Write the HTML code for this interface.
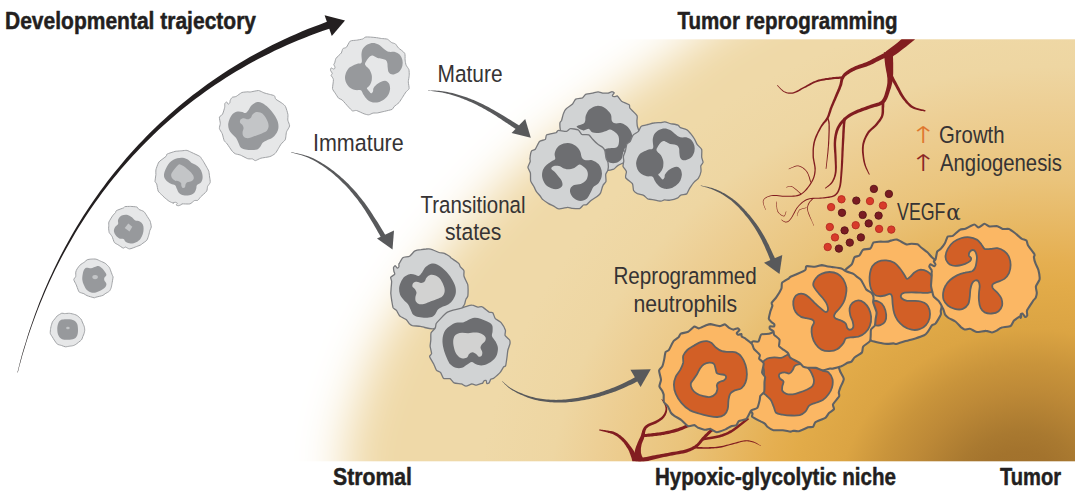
<!DOCTYPE html>
<html lang="en">
<head>
<meta charset="utf-8">
<title>Neutrophil reprogramming</title>
<style>
html,body{margin:0;padding:0;background:#fff;}
body{width:1080px;height:498px;overflow:hidden;}
svg{display:block;}
text{white-space:pre;}
</style>
</head>
<body>
<svg width="1080" height="498" viewBox="0 0 1080 498">
<defs>
<radialGradient id="gBase" gradientUnits="userSpaceOnUse" cx="0" cy="0" r="1" gradientTransform="translate(1016.7 490) rotate(-19.5) scale(548 479)">
<stop offset="0" stop-color="#9f6f2b"/>
<stop offset="0.08" stop-color="#a3732d"/>
<stop offset="0.12" stop-color="#a97930"/>
<stop offset="0.2" stop-color="#bd8937"/>
<stop offset="0.26" stop-color="#c9943b"/>
<stop offset="0.33" stop-color="#dba443"/>
<stop offset="0.42" stop-color="#e2ab49"/>
<stop offset="0.47" stop-color="#e5af51"/>
<stop offset="0.64" stop-color="#eac47c"/>
<stop offset="0.79" stop-color="#edcf95"/>
<stop offset="0.87" stop-color="#eed6a2"/>
<stop offset="1" stop-color="#efd9a8"/>
</radialGradient>
<filter id="blur" x="-30%" y="-30%" width="160%" height="160%"><feGaussianBlur stdDeviation="23.5"/></filter>
<clipPath id="panel"><rect x="240" y="39.3" width="835" height="422.0"/></clipPath>
</defs>
<rect x="240" y="39.3" width="835" height="422.0" fill="url(#gBase)"/>
<path d="M100 -80 L160.6 -112.4 L247.4 -129.2 L351.3 -133.6 L463.4 -128.7 L574.5 -117.7 L675.7 -103.8 L757.8 -90.2 L812 -80 L836.7 -70.4 L840.1 -57.3 L827.1 -41.5 L802.9 -24.3 L772.4 -6.6 L740.7 10.5 L712.9 26.1 L694 39 L681.7 49.4 L670.3 58.2 L659.5 65.9 L649.1 72.8 L638.9 79.3 L628.8 85.8 L618.6 92.5 L608 100 L597.1 107.9 L586.1 115.7 L575.1 123.6 L564 131.6 L553 139.7 L542.1 148.1 L531.5 156.9 L521 166 L510.7 175.7 L500.4 185.8 L490.2 196.3 L480.1 207 L470.3 217.9 L460.8 228.7 L451.7 239.5 L443 250 L434.7 260.4 L426.6 271 L418.8 281.5 L411.4 292 L404.3 302.4 L397.7 312.5 L391.6 322.4 L386 332 L381 341.2 L376.6 350.2 L372.8 358.9 L369.3 367.4 L366.2 375.7 L363.3 383.9 L360.6 392 L358 400 L355.5 407.5 L353.4 414.2 L351.5 420.4 L349.8 426.8 L348.2 433.5 L346.8 441 L345.4 449.7 L344 460 L344.3 472.9 L346.9 488.6 L350.6 505.9 L353.9 523.8 L355.4 541.2 L353.9 557 L347.9 570.3 L336 580 L315.8 590.3 L287.5 603.9 L253.8 617.8 L217.5 628.8 L181.2 633.6 L147.8 629.2 L119.8 612.4 L100 580 L83.8 524.6 L66.7 445.9 L51.4 351.8 L40.8 250 L37.5 148.2 L44.4 54.1 L64.3 -24.6Z" fill="#fff" filter="url(#blur)"/>
<path d="M17.8 372.5 L19.3 366.6 L20.9 360.7 L22.5 354.8 L24.3 348.9 L26.1 343.1 L27.9 337.3 L29.8 331.5 L31.8 325.7 L33.9 320 L36 314.3 L38.2 308.6 L40.4 303 L42.7 297.4 L45.1 291.8 L47.5 286.3 L50 280.7 L52.6 275.3 L55.2 269.8 L57.9 264.4 L60.7 259.1 L63.5 253.7 L66.4 248.4 L69.4 243.2 L72.4 238 L75.4 232.8 L78.6 227.6 L81.8 222.5 L85 217.5 L88.3 212.5 L91.7 207.5 L95.2 202.6 L98.7 197.7 L102.2 192.8 L105.9 188 L109.5 183.3 L113.3 178.6 L117.1 173.9 L120.9 169.3 L124.9 164.8 L128.9 160.2 L132.9 155.8 L137 151.4 L141.2 147 L145.4 142.7 L149.7 138.4 L154 134.2 L158.4 130.1 L162.8 126 L167.3 121.9 L171.9 117.9 L176.5 114 L181.2 110.1 L186 106.3 L190.7 102.5 L195.6 98.8 L200.5 95.2 L205.5 91.6 L210.5 88.1 L215.6 84.6 L220.7 81.2 L225.9 77.8 L231.1 74.6 L236.4 71.3 L241.8 68.2 L247.2 65.1 L252.6 62.1 L258.2 59.1 L263.7 56.2 L269.4 53.4 L275 50.6 L280.8 47.9 L286.6 45.3 L292.4 42.8 L298.3 40.3 L304.2 37.9 L310.2 35.5 L316.3 33.2 L322.4 31 L328.5 28.9 L334.8 26.9 L332.4 19.9 L326.2 22.1 L320 24.4 L313.8 26.7 L307.7 29.1 L301.7 31.6 L295.7 34.2 L289.8 36.8 L283.9 39.5 L278.1 42.2 L272.3 45.1 L266.6 48 L261 50.9 L255.4 53.9 L249.8 57 L244.4 60.2 L238.9 63.4 L233.6 66.7 L228.3 70 L223 73.4 L217.8 76.9 L212.7 80.4 L207.6 84 L202.6 87.7 L197.7 91.4 L192.8 95.1 L187.9 99 L183.2 102.8 L178.4 106.8 L173.8 110.8 L169.2 114.8 L164.6 118.9 L160.1 123 L155.7 127.3 L151.3 131.5 L147 135.8 L142.8 140.2 L138.6 144.6 L134.5 149 L130.4 153.5 L126.4 158.1 L122.5 162.7 L118.6 167.4 L114.8 172 L111 176.8 L107.3 181.6 L103.7 186.4 L100.1 191.3 L96.6 196.2 L93.1 201.2 L89.7 206.2 L86.4 211.2 L83.1 216.3 L79.9 221.4 L76.8 226.6 L73.7 231.8 L70.7 237 L67.8 242.3 L64.9 247.6 L62 252.9 L59.3 258.3 L56.6 263.7 L53.9 269.2 L51.4 274.7 L48.8 280.2 L46.4 285.8 L44 291.3 L41.7 297 L39.4 302.6 L37.3 308.3 L35.1 314 L33.1 319.7 L31.1 325.5 L29.1 331.2 L27.3 337.1 L25.5 342.9 L23.7 348.8 L22 354.6 L20.4 360.6 L18.9 366.5 L17.4 372.5Z" fill="#231f20"/>
<path d="M324.6 15.3 L345 20.6 L331.8 36 Z" fill="#231f20"/>
<path d="M428 90.5 L428.9 90.7 L430.2 90.8 L431.6 91 L433.2 91.2 L435 91.5 L436.8 91.7 L438.7 92 L440.5 92.3 L442.3 92.6 L444 93 L445.5 93.3 L447.1 93.7 L448.7 94.1 L450.3 94.6 L451.9 95 L453.5 95.5 L455.1 96 L456.7 96.5 L458.2 97.1 L459.8 97.6 L461.4 98.2 L463 98.8 L464.5 99.4 L466.1 100.1 L467.7 100.7 L469.3 101.4 L470.8 102.1 L472.4 102.8 L474 103.5 L475.5 104.3 L477.1 105.1 L478.7 105.9 L480.3 106.7 L481.9 107.6 L483.4 108.4 L485 109.3 L486.6 110.2 L488.2 111.2 L489.8 112.1 L491.4 113 L493 114 L494.6 115 L496.3 116.1 L497.9 117.2 L499.6 118.3 L501.2 119.3 L502.8 120.4 L504.4 121.4 L505.8 122.4 L507.2 123.3 L508.5 124.2 L509.8 125 L511.1 125.9 L512.3 126.7 L513.4 127.5 L514.5 128.2 L515.4 128.8 L516.3 129.4 L517.1 129.9 L517.7 130.3 L520.3 126.3 L519.7 125.9 L519 125.4 L518.1 124.8 L517.1 124.2 L516 123.5 L514.8 122.8 L513.6 122 L512.3 121.2 L510.9 120.3 L509.6 119.5 L508.2 118.7 L506.7 117.7 L505.1 116.8 L503.5 115.8 L501.8 114.7 L500.1 113.7 L498.4 112.7 L496.6 111.7 L494.9 110.7 L493.2 109.8 L491.6 108.9 L490 108 L488.3 107.1 L486.7 106.2 L485.1 105.4 L483.4 104.6 L481.8 103.8 L480.1 103 L478.5 102.2 L476.9 101.5 L475.2 100.8 L473.6 100.1 L472 99.4 L470.3 98.8 L468.7 98.2 L467.1 97.6 L465.5 97 L463.8 96.4 L462.2 95.9 L460.6 95.4 L458.9 94.9 L457.3 94.4 L455.7 94 L454 93.5 L452.4 93.1 L450.8 92.7 L449.1 92.4 L447.5 92 L445.9 91.7 L444.2 91.4 L442.5 91.2 L440.7 91 L438.8 90.8 L436.9 90.7 L435.1 90.6 L433.3 90.5 L431.7 90.4 L430.2 90.4 L429 90.3 L428 90.3Z" fill="#58595b"/>
<path d="M525.2 119 L530.8 137.8 L511.6 133.1 Z" fill="#58595b"/>
<path d="M290.9 152.3 L291.9 152.7 L293.3 153 L295 153.5 L296.8 154 L298.8 154.5 L300.9 155.1 L303 155.8 L305.1 156.5 L307.1 157.3 L308.9 158.1 L310.7 158.9 L312.5 159.8 L314.3 160.8 L316.1 161.8 L317.8 162.8 L319.6 163.9 L321.4 165.1 L323.2 166.3 L325 167.5 L326.7 168.8 L328.5 170.2 L330.4 171.6 L332.2 173.1 L334 174.6 L335.8 176.2 L337.7 177.8 L339.5 179.5 L341.2 181.2 L342.9 182.9 L344.6 184.6 L346.3 186.3 L347.9 188.1 L349.5 189.8 L351 191.7 L352.6 193.5 L354.1 195.4 L355.6 197.2 L357.1 199.1 L358.5 201 L359.9 202.9 L361.3 204.8 L362.6 206.8 L364 208.8 L365.3 210.8 L366.5 212.8 L367.8 214.8 L369 216.8 L370.2 218.8 L371.4 220.7 L372.5 222.6 L373.7 224.5 L374.8 226.4 L376 228.4 L377.1 230.4 L378.2 232.4 L379.3 234.2 L380.2 235.9 L381.1 237.4 L381.8 238.7 L382.4 239.7 L386.6 237.3 L386 236.3 L385.3 235 L384.4 233.5 L383.4 231.8 L382.3 230 L381.1 228.1 L379.9 226.1 L378.7 224.1 L377.5 222.1 L376.3 220.2 L375.1 218.4 L373.8 216.5 L372.6 214.5 L371.3 212.6 L370 210.6 L368.6 208.6 L367.2 206.6 L365.8 204.6 L364.4 202.6 L362.9 200.7 L361.4 198.8 L359.9 196.9 L358.3 195 L356.8 193.1 L355.2 191.3 L353.6 189.5 L351.9 187.7 L350.2 185.9 L348.5 184.1 L346.8 182.4 L345 180.7 L343.2 179.1 L341.3 177.4 L339.5 175.8 L337.6 174.2 L335.7 172.7 L333.7 171.1 L331.8 169.7 L329.9 168.3 L328.1 167 L326.2 165.7 L324.3 164.5 L322.5 163.4 L320.6 162.2 L318.8 161.2 L316.9 160.2 L315.1 159.2 L313.2 158.3 L311.3 157.5 L309.5 156.7 L307.5 156 L305.4 155.4 L303.3 154.8 L301.1 154.2 L299 153.7 L297 153.3 L295.1 152.9 L293.4 152.6 L292 152.3 L290.9 152.1Z" fill="#58595b"/>
<path d="M377 238.4 L392.5 249.6 L394 230.5 Z" fill="#58595b"/>
<path d="M700.6 185.7 L701.2 185.9 L702.1 186.2 L703.2 186.5 L704.3 186.8 L705.6 187.2 L706.9 187.6 L708.2 188 L709.5 188.4 L710.7 188.8 L711.9 189.3 L713 189.7 L714.1 190.2 L715.2 190.7 L716.2 191.2 L717.3 191.7 L718.4 192.2 L719.4 192.8 L720.5 193.3 L721.6 194 L722.6 194.6 L723.7 195.3 L724.8 196 L725.9 196.7 L727 197.4 L728 198.2 L729.1 198.9 L730.2 199.8 L731.3 200.6 L732.3 201.5 L733.4 202.4 L734.5 203.4 L735.5 204.4 L736.6 205.4 L737.7 206.5 L738.7 207.6 L739.8 208.7 L740.8 209.9 L741.9 211.1 L743 212.3 L744 213.6 L745.1 214.9 L746.2 216.3 L747.3 217.6 L748.5 219.1 L749.6 220.5 L750.7 222 L751.7 223.5 L752.8 225 L753.8 226.4 L754.8 227.9 L755.7 229.4 L756.6 230.9 L757.5 232.4 L758.3 233.9 L759.2 235.4 L760 237 L760.8 238.5 L761.6 240.1 L762.4 241.7 L763.2 243.4 L764 245.1 L764.9 247 L765.7 249 L766.6 251.1 L767.5 253.1 L768.3 255.1 L769.1 256.9 L769.7 258.5 L770.3 259.9 L770.8 261 L775.2 259 L774.8 258 L774.2 256.6 L773.4 255 L772.6 253.2 L771.7 251.2 L770.8 249.2 L769.8 247.2 L768.9 245.1 L767.9 243.2 L767 241.4 L766.2 239.8 L765.3 238.2 L764.4 236.6 L763.5 235 L762.6 233.5 L761.7 231.9 L760.8 230.4 L759.8 228.9 L758.9 227.4 L757.8 225.9 L756.8 224.4 L755.7 222.9 L754.5 221.4 L753.4 219.9 L752.2 218.4 L751 217 L749.9 215.6 L748.7 214.2 L747.5 212.9 L746.4 211.6 L745.2 210.4 L744.1 209.1 L742.9 207.9 L741.8 206.8 L740.7 205.7 L739.5 204.6 L738.4 203.5 L737.3 202.5 L736.1 201.5 L735 200.6 L733.8 199.7 L732.7 198.8 L731.5 197.9 L730.4 197.2 L729.3 196.4 L728.1 195.7 L727 195 L725.8 194.3 L724.7 193.6 L723.6 193 L722.4 192.4 L721.3 191.8 L720.2 191.3 L719.1 190.7 L718 190.3 L716.8 189.8 L715.7 189.3 L714.6 188.9 L713.5 188.5 L712.3 188.1 L711.1 187.7 L709.8 187.4 L708.5 187.1 L707.1 186.8 L705.8 186.5 L704.5 186.2 L703.3 186 L702.2 185.8 L701.3 185.6 L700.6 185.5Z" fill="#58595b"/>
<path d="M764 262.7 L779.5 274 L782.3 255 Z" fill="#58595b"/>
<path d="M502 381.3 L502.5 381.8 L503.1 382.4 L503.8 383.1 L504.5 383.9 L505.4 384.7 L506.3 385.6 L507.3 386.5 L508.3 387.4 L509.4 388.3 L510.4 389 L511.5 389.7 L512.6 390.5 L513.8 391.1 L515 391.8 L516.3 392.5 L517.5 393.2 L518.9 393.8 L520.2 394.4 L521.6 395 L523 395.6 L524.4 396.2 L525.9 396.8 L527.4 397.4 L529 397.9 L530.5 398.4 L532.1 398.9 L533.8 399.4 L535.5 399.9 L537.2 400.3 L538.9 400.7 L540.7 401 L542.5 401.3 L544.4 401.6 L546.3 401.8 L548.3 402 L550.2 402.2 L552.2 402.3 L554.1 402.4 L556.1 402.5 L558 402.6 L559.9 402.6 L561.8 402.5 L563.8 402.5 L565.7 402.4 L567.6 402.2 L569.5 402.1 L571.4 401.9 L573.3 401.7 L575.2 401.5 L577.1 401.2 L579 400.9 L581 400.6 L582.9 400.3 L584.8 400 L586.7 399.6 L588.6 399.2 L590.5 398.8 L592.4 398.3 L594.3 397.9 L596.2 397.4 L598.1 396.9 L600.1 396.4 L602 395.8 L604 395.2 L606 394.6 L607.9 394 L609.8 393.3 L611.7 392.7 L613.6 392 L615.4 391.4 L617.1 390.7 L618.9 390 L620.7 389.2 L622.5 388.5 L624.2 387.7 L625.8 387 L627.4 386.2 L628.8 385.6 L630.2 384.9 L631.4 384.4 L632.5 383.9 L633.5 383.4 L634.5 382.9 L635.3 382.5 L636.1 382.1 L636.7 381.7 L637.3 381.4 L637.8 381.1 L638.3 380.9 L638.6 380.7 L636.4 376.5 L636 376.7 L635.5 377 L635 377.2 L634.4 377.6 L633.8 377.9 L633.1 378.3 L632.3 378.7 L631.4 379.2 L630.5 379.7 L629.4 380.2 L628.2 380.8 L626.9 381.5 L625.4 382.2 L623.9 382.9 L622.3 383.7 L620.7 384.5 L619 385.2 L617.3 386 L615.5 386.7 L613.8 387.4 L612.1 388.1 L610.3 388.8 L608.5 389.5 L606.6 390.1 L604.7 390.8 L602.8 391.4 L600.9 392.1 L599 392.7 L597.1 393.3 L595.2 393.8 L593.4 394.3 L591.5 394.8 L589.6 395.3 L587.8 395.7 L585.9 396.2 L584.1 396.6 L582.2 397 L580.4 397.3 L578.5 397.7 L576.7 398 L574.8 398.3 L572.9 398.6 L571.1 398.8 L569.2 399.1 L567.3 399.3 L565.5 399.4 L563.6 399.6 L561.7 399.7 L559.9 399.8 L558 399.8 L556.1 399.9 L554.2 399.8 L552.3 399.8 L550.4 399.7 L548.5 399.6 L546.6 399.4 L544.7 399.3 L542.8 399 L541 398.8 L539.3 398.5 L537.6 398.2 L535.9 397.9 L534.3 397.5 L532.7 397.1 L531.1 396.7 L529.5 396.2 L528 395.7 L526.5 395.2 L525 394.7 L523.6 394.2 L522.2 393.6 L520.8 393.1 L519.5 392.5 L518.1 391.9 L516.8 391.3 L515.6 390.7 L514.4 390.1 L513.2 389.5 L512.1 388.8 L511 388.2 L509.9 387.5 L508.9 386.7 L507.8 385.9 L506.8 385.1 L505.8 384.3 L504.9 383.5 L504.1 382.7 L503.3 382.1 L502.7 381.5 L502.2 381.1Z" fill="#58595b"/>
<path d="M630.4 369.7 L650.8 369.2 L640.6 387 Z" fill="#58595b"/>
<g clip-path="url(#panel)">
<path d="M909.1 32.6 L908.2 33.4 L907 34.4 L905.5 35.7 L903.9 37.1 L902.2 38.5 L900.5 40 L898.9 41.4 L897.4 42.7 L895.8 43.9 L894.2 45.2 L892.5 46.5 L890.8 47.8 L889.2 49 L887.8 50.1 L886.5 51.1 L885.6 51.8 L890.4 58.2 L891.3 57.5 L892.6 56.7 L894 55.6 L895.7 54.4 L897.5 53.2 L899.2 51.9 L901 50.6 L902.6 49.3 L904.3 48.1 L906 46.7 L907.8 45.2 L909.6 43.8 L911.2 42.4 L912.7 41.2 L914 40.2 L914.9 39.4Z" fill="#821d20"/>
<path d="M883.8 52.3 L883.9 53.3 L884 54.6 L884.2 56.2 L884.4 58 L884.6 59.8 L884.8 61.7 L885 63.5 L885.2 65.3 L885.5 67 L885.8 68.7 L886.1 70.4 L886.4 72.1 L886.8 73.8 L887 75.4 L887.2 76.9 L887.4 78.3 L887.4 79.7 L887.4 81 L887.4 82.3 L887.3 83.5 L887.1 84.7 L886.9 85.9 L886.6 87.2 L886.3 88.6 L885.9 90.2 L885.4 91.8 L884.9 93.5 L884.4 95.2 L883.8 96.8 L883.1 98.2 L882.3 99.5 L881.6 100.5 L880.7 101.2 L879.7 101.8 L878.5 102.4 L877.1 102.8 L875.6 103.3 L874 103.7 L872.3 104.2 L870.6 104.8 L868.9 105.4 L867.1 106.1 L865.3 106.8 L863.3 107.4 L861.4 108.1 L859.5 108.9 L857.7 109.6 L856 110.3 L854.5 111.1 L853 111.8 L851.5 112.6 L850.1 113.3 L848.8 114.1 L847.4 115 L846.2 115.9 L844.9 117 L843.7 118.1 L842.6 119.2 L841.4 120.4 L840.3 121.7 L839.3 123 L838.4 124.4 L837.5 125.9 L836.7 127.4 L836.1 129 L835.5 130.6 L835.1 132.2 L834.7 133.9 L834.4 135.7 L834.1 137.5 L833.9 139.3 L833.8 141.2 L833.7 143.2 L833.7 145.4 L833.8 147.5 L833.9 149.7 L834.1 152 L834.3 154.1 L834.4 156.2 L834.5 158.2 L834.6 160.2 L834.7 162.1 L834.8 164.1 L834.9 165.9 L834.9 167.7 L834.9 169.4 L834.9 171.1 L834.7 172.6 L834.5 174 L834.2 175.3 L833.9 176.6 L833.5 177.7 L833 178.8 L832.5 179.9 L832 180.9 L831.4 181.9 L830.8 182.8 L829.9 183.8 L829 184.7 L828 185.5 L827.1 186.3 L826.2 187 L825.5 187.6 L824.9 188.1 L825.5 188.7 L826 188.3 L826.8 187.8 L827.7 187.1 L828.7 186.4 L829.8 185.6 L830.8 184.7 L831.8 183.7 L832.6 182.7 L833.3 181.7 L833.9 180.6 L834.5 179.5 L835 178.3 L835.4 177.1 L835.9 175.7 L836.2 174.3 L836.5 172.8 L836.7 171.2 L836.8 169.5 L836.9 167.7 L836.9 165.9 L836.8 164 L836.8 162.1 L836.7 160.1 L836.7 158.2 L836.6 156.1 L836.5 154 L836.4 151.8 L836.3 149.6 L836.2 147.4 L836.1 145.3 L836.1 143.3 L836.2 141.4 L836.4 139.6 L836.7 137.8 L836.9 136.1 L837.3 134.5 L837.7 132.9 L838.1 131.4 L838.7 130 L839.3 128.6 L840 127.3 L840.8 126 L841.6 124.7 L842.6 123.5 L843.6 122.4 L844.7 121.3 L845.8 120.2 L846.9 119.2 L848 118.3 L849.2 117.5 L850.4 116.7 L851.6 116 L853 115.3 L854.4 114.6 L855.8 114 L857.4 113.3 L859 112.6 L860.7 111.9 L862.5 111.2 L864.4 110.5 L866.3 109.9 L868.2 109.2 L870.1 108.6 L871.8 108 L873.4 107.5 L874.9 107.1 L876.5 106.7 L878.1 106.3 L879.7 105.8 L881.3 105.1 L882.8 104.3 L884.2 103.1 L885.5 101.7 L886.5 100.1 L887.3 98.4 L888.1 96.6 L888.7 94.8 L889.3 93 L889.8 91.3 L890.3 89.8 L890.8 88.4 L891.2 87 L891.6 85.6 L891.9 84.2 L892.2 82.9 L892.4 81.5 L892.7 80 L892.8 78.5 L893 76.8 L893.1 75.1 L893.2 73.3 L893.2 71.5 L893.2 69.8 L893.2 68 L893.2 66.3 L893.2 64.7 L893.2 63 L893.1 61.1 L893.1 59.2 L893 57.4 L892.9 55.6 L892.9 54 L892.8 52.7 L892.8 51.7Z" fill="#821d20"/>
<path d="M888.5 74.9 L889 75.7 L889.7 76.9 L890.5 78.3 L891.4 79.8 L892.3 81.4 L893.3 83.1 L894.3 84.8 L895.2 86.3 L896.1 87.9 L896.9 89.4 L897.8 91.1 L898.7 92.7 L899.6 94.4 L900.6 96 L901.6 97.5 L902.6 99 L903.7 100.3 L904.8 101.6 L905.8 102.9 L907 104.1 L908.2 105.3 L909.4 106.4 L910.7 107.4 L912.2 108.3 L913.8 109 L915.6 109.6 L917.5 110.1 L919.4 110.5 L921.2 110.9 L922.9 111.1 L924.2 111.4 L925.2 111.6 L925.6 110.2 L924.6 109.9 L923.2 109.6 L921.6 109.2 L919.8 108.8 L918 108.3 L916.2 107.7 L914.6 107.1 L913.2 106.3 L912 105.5 L910.9 104.6 L909.8 103.6 L908.7 102.5 L907.7 101.3 L906.7 100.1 L905.7 98.8 L904.8 97.4 L903.8 96.1 L902.9 94.6 L902 93 L901.2 91.4 L900.3 89.7 L899.5 88.1 L898.6 86.5 L897.8 84.9 L896.9 83.3 L896 81.6 L895.1 79.9 L894.2 78.2 L893.4 76.6 L892.6 75.2 L892 74 L891.5 73.1Z" fill="#821d20"/>
<path d="M881.4 101.8 L881.4 102.2 L881.5 102.8 L881.5 103.3 L881.6 104 L881.6 104.7 L881.6 105.5 L881.6 106.4 L881.6 107.2 L881.6 108.2 L881.6 109.3 L881.6 110.4 L881.6 111.5 L881.5 112.7 L881.4 113.8 L881.2 114.9 L880.9 115.9 L880.4 116.9 L879.9 117.9 L879.2 119 L878.5 120 L877.7 121.1 L876.9 122.1 L876 123.2 L875.1 124.2 L874.3 125.2 L873.3 126.1 L872.3 127 L871.2 127.9 L870.1 128.9 L869.1 129.9 L868 131.1 L867.1 132.4 L866.3 133.8 L865.5 135.3 L864.7 136.9 L864 138.6 L863.3 140.3 L862.8 142.1 L862.3 144 L862.1 145.9 L861.9 147.9 L861.9 150.1 L862 152.4 L862.3 154.7 L862.6 157 L862.9 159.2 L863.3 161.3 L863.8 163.2 L864.3 165 L865 166.8 L865.7 168.5 L866.5 170.1 L867.3 171.6 L868 172.9 L868.6 173.9 L869 174.8 L869.8 174.4 L869.4 173.6 L868.9 172.4 L868.2 171.1 L867.6 169.6 L866.9 168 L866.2 166.3 L865.7 164.6 L865.2 162.8 L864.9 161 L864.5 158.9 L864.2 156.7 L864 154.5 L863.8 152.3 L863.7 150.1 L863.8 148 L863.9 146.1 L864.2 144.3 L864.7 142.6 L865.2 140.9 L865.8 139.3 L866.5 137.8 L867.3 136.3 L868.1 134.9 L868.9 133.6 L869.7 132.4 L870.6 131.4 L871.6 130.5 L872.7 129.6 L873.7 128.7 L874.8 127.8 L875.9 126.8 L876.9 125.8 L877.8 124.7 L878.7 123.6 L879.5 122.5 L880.4 121.4 L881.2 120.3 L881.9 119.1 L882.6 117.9 L883.1 116.7 L883.5 115.5 L883.8 114.2 L884 112.9 L884.1 111.7 L884.1 110.4 L884.1 109.3 L884.1 108.3 L884.2 107.4 L884.3 106.5 L884.3 105.6 L884.3 104.7 L884.4 104 L884.4 103.3 L884.4 102.7 L884.4 102.2 L884.4 101.8Z" fill="#821d20"/>
<path d="M888.9 50.7 L888 51.2 L886.9 51.8 L885.4 52.5 L883.9 53.3 L882.2 54.1 L880.5 54.9 L878.9 55.7 L877.4 56.5 L876 57.2 L874.7 57.9 L873.4 58.6 L872.1 59.3 L870.8 60 L869.5 60.7 L868.2 61.3 L866.8 62 L865.4 62.6 L863.8 63.1 L862.2 63.7 L860.5 64.2 L858.9 64.8 L857.2 65.4 L855.6 66 L854.1 66.7 L852.7 67.4 L851.4 68.1 L850.1 68.8 L848.9 69.6 L847.8 70.3 L846.7 71 L845.7 71.8 L844.8 72.5 L844.1 73.1 L843.4 73.8 L842.9 74.4 L842.4 75 L842 75.7 L841.6 76.3 L841.3 77 L840.9 77.8 L840.6 78.7 L840.3 79.6 L840.2 80.5 L840 81.5 L839.8 82.4 L839.7 83.3 L839.4 84.2 L839.2 85.2 L838.8 86.1 L838.5 87.1 L838.1 88.2 L837.6 89.2 L837.2 90.3 L836.7 91.5 L836.1 92.8 L835.6 94.1 L835 95.5 L834.4 97.1 L833.7 98.7 L833 100.3 L832.3 102 L831.6 103.7 L830.9 105.3 L830.3 106.9 L829.7 108.3 L829.3 109.8 L828.8 111.2 L828.4 112.5 L828 113.8 L827.6 115.1 L827.1 116.3 L826.5 117.5 L825.9 118.6 L825.2 119.6 L824.5 120.6 L823.7 121.6 L822.8 122.6 L822 123.8 L821.1 125.1 L820.3 126.5 L819.4 128 L818.5 129.7 L817.6 131.5 L816.7 133.4 L815.8 135.3 L815 137.3 L814.3 139.2 L813.8 141.1 L813.3 143 L813 144.8 L812.8 146.6 L812.6 148.5 L812.5 150.3 L812.5 152.2 L812.5 154 L812.5 155.8 L812.6 157.7 L812.9 159.6 L813.3 161.5 L813.6 163.3 L814 165.2 L814.3 166.9 L814.4 168.6 L814.5 170.3 L814.3 171.8 L814.1 173.4 L813.9 174.8 L813.5 176.3 L813 177.7 L812.5 179.1 L811.8 180.5 L811 182 L810 183.6 L808.9 185.2 L807.6 186.9 L806.3 188.6 L804.9 190.2 L803.4 191.7 L801.9 192.9 L800.3 193.9 L798.8 194.6 L797.1 195.1 L795.4 195.4 L793.6 195.6 L791.7 195.7 L789.9 195.7 L788 195.7 L786.2 195.8 L784.4 195.8 L782.5 195.7 L780.6 195.5 L778.6 195.3 L776.7 195.1 L774.9 195 L773.2 195 L771.6 195.2 L770.2 195.5 L768.8 195.9 L767.5 196.5 L766.3 197 L765.2 197.7 L764.3 198.5 L763.5 199.4 L763 200.3 L762.8 201.4 L762.9 202.7 L763.3 204.1 L763.7 205.6 L764.3 207 L764.8 208.2 L765.2 209.3 L765.5 210.1 L765.9 209.9 L765.6 209.2 L765.2 208.1 L764.7 206.8 L764.2 205.4 L763.8 204 L763.5 202.6 L763.4 201.4 L763.6 200.5 L764 199.7 L764.7 199 L765.6 198.3 L766.6 197.7 L767.8 197.1 L769 196.7 L770.4 196.3 L771.8 196 L773.2 195.9 L774.9 195.9 L776.7 196 L778.5 196.2 L780.5 196.4 L782.4 196.7 L784.3 196.8 L786.2 196.8 L788 196.8 L789.9 196.8 L791.8 196.7 L793.7 196.7 L795.5 196.5 L797.4 196.2 L799.2 195.7 L800.9 194.9 L802.5 193.8 L804.1 192.5 L805.7 191 L807.2 189.4 L808.6 187.6 L809.8 185.9 L811 184.2 L812 182.6 L812.9 181.1 L813.6 179.6 L814.2 178.1 L814.7 176.6 L815.1 175.1 L815.4 173.6 L815.6 172 L815.7 170.3 L815.8 168.6 L815.6 166.8 L815.3 164.9 L815 163.1 L814.6 161.2 L814.3 159.4 L814 157.6 L813.9 155.8 L813.9 154 L813.9 152.2 L813.9 150.4 L814 148.6 L814.2 146.8 L814.5 145 L814.8 143.3 L815.2 141.5 L815.8 139.7 L816.5 137.8 L817.3 136 L818.1 134.1 L819 132.3 L820 130.5 L820.9 128.8 L821.7 127.3 L822.6 126 L823.4 124.9 L824.3 123.8 L825.2 122.8 L826 121.9 L826.9 120.9 L827.7 119.7 L828.5 118.5 L829.1 117.2 L829.7 115.9 L830.2 114.6 L830.6 113.2 L831.1 111.9 L831.5 110.5 L832 109.1 L832.5 107.7 L833.1 106.2 L833.8 104.7 L834.5 103 L835.3 101.3 L836 99.7 L836.7 98.1 L837.4 96.5 L838 95.1 L838.6 93.8 L839.1 92.6 L839.6 91.4 L840.1 90.3 L840.6 89.2 L841 88.1 L841.4 87.1 L841.8 86 L842.2 85 L842.4 83.9 L842.6 82.9 L842.8 82 L843 81.1 L843.2 80.3 L843.4 79.6 L843.7 79 L844 78.4 L844.3 77.8 L844.6 77.4 L844.9 76.9 L845.3 76.5 L845.7 76.1 L846.3 75.7 L847 75.1 L847.8 74.5 L848.7 73.9 L849.7 73.3 L850.8 72.6 L851.9 72 L853.1 71.3 L854.4 70.7 L855.7 70.1 L857 69.6 L858.5 69.1 L860.1 68.6 L861.7 68.1 L863.4 67.5 L865.1 67 L866.8 66.4 L868.4 65.8 L869.9 65.2 L871.4 64.5 L872.7 63.9 L874.1 63.2 L875.4 62.5 L876.7 61.8 L878 61.2 L879.4 60.5 L880.9 59.8 L882.5 59.1 L884.2 58.3 L885.9 57.6 L887.5 56.9 L888.9 56.2 L890.2 55.7 L891.1 55.3Z" fill="#821d20"/>
<path d="M843.4 76.3 L842.5 76.4 L841.3 76.4 L839.9 76.5 L838.3 76.7 L836.6 76.8 L834.8 76.9 L833 77.1 L831.3 77.4 L829.6 77.6 L827.8 77.9 L825.9 78.1 L824.1 78.4 L822.2 78.8 L820.3 79.2 L818.5 79.6 L816.7 80.2 L815 80.9 L813.3 81.6 L811.6 82.4 L810 83.3 L808.4 84.2 L806.9 85.1 L805.4 85.9 L803.9 86.7 L802.5 87.5 L801 88.3 L799.7 89.1 L798.3 89.9 L797 90.6 L795.7 91.3 L794.5 91.8 L793.3 92.2 L792.2 92.4 L791 92.5 L789.9 92.6 L788.8 92.5 L787.8 92.4 L786.7 92.2 L785.7 91.8 L784.7 91.5 L783.7 90.9 L782.7 90.1 L781.6 89.2 L780.6 88.2 L779.6 87.2 L778.7 86.3 L778 85.5 L777.4 85 L777 85.4 L777.5 86 L778.2 86.8 L779.1 87.7 L780 88.8 L781 89.8 L782.1 90.8 L783.2 91.7 L784.3 92.3 L785.3 92.8 L786.4 93.2 L787.6 93.5 L788.7 93.7 L789.9 93.8 L791.1 93.8 L792.4 93.7 L793.7 93.4 L795 93.1 L796.3 92.5 L797.7 91.9 L799 91.2 L800.4 90.4 L801.8 89.6 L803.2 88.8 L804.7 88.1 L806.2 87.4 L807.7 86.5 L809.3 85.7 L810.8 84.9 L812.4 84 L814 83.3 L815.7 82.6 L817.3 82 L819 81.5 L820.8 81.1 L822.6 80.7 L824.4 80.4 L826.2 80.1 L828.1 79.9 L829.8 79.7 L831.5 79.4 L833.2 79.3 L835 79.1 L836.7 79 L838.4 78.9 L840 78.8 L841.4 78.8 L842.6 78.7 L843.6 78.7Z" fill="#821d20"/>
<path d="M826.8 118.2 L827 118.7 L827.2 119.1 L827.5 119.6 L827.7 120.1 L827.9 120.8 L828.2 121.8 L828.3 123 L828.5 124.5 L828.5 126.5 L828.5 128.8 L828.5 131.5 L828.4 134.3 L828.3 137.3 L828.2 140.3 L828 143.3 L827.9 146.2 L827.6 149.1 L827.4 152.3 L827 155.7 L826.7 159 L826.4 162.1 L826.1 164.9 L825.8 167.3 L825.7 169.1 L826.3 169.1 L826.6 167.4 L826.9 165 L827.2 162.2 L827.6 159.1 L828 155.8 L828.4 152.4 L828.7 149.2 L828.9 146.2 L829.2 143.4 L829.3 140.4 L829.5 137.3 L829.6 134.3 L829.7 131.5 L829.8 128.8 L829.8 126.5 L829.7 124.5 L829.7 122.9 L829.5 121.5 L829.2 120.5 L829 119.7 L828.7 119 L828.5 118.5 L828.3 118.1 L828.2 117.8Z" fill="#821d20"/>
<path d="M843.7 117.8 L843.7 118.1 L843.6 118.5 L843.5 119 L843.3 119.6 L843.2 120.5 L843 121.5 L842.9 122.8 L842.8 124.4 L842.6 126.4 L842.5 128.7 L842.3 131.4 L842.2 134.2 L842.1 137.2 L841.9 140.2 L841.8 143.2 L841.7 146.1 L841.5 149.1 L841.4 152.2 L841.3 155.3 L841.2 158.5 L841 161.6 L840.9 164.7 L840.8 167.6 L840.6 170.2 L840.4 172.7 L840.3 175.2 L840.1 177.5 L840 179.6 L839.8 181.7 L839.6 183.6 L839.3 185.4 L838.9 187 L838.5 188.4 L838 189.7 L837.5 190.9 L837 191.9 L836.4 192.8 L835.8 193.6 L835 194.3 L834 195 L833 195.6 L831.7 196 L830.3 196.3 L828.8 196.6 L827.2 196.8 L825.6 197 L823.9 197.2 L822.2 197.4 L820.5 197.6 L818.7 197.7 L816.9 197.7 L814.9 197.7 L813 197.8 L811.2 198 L809.4 198.3 L807.7 198.7 L806.2 199.3 L804.8 200.1 L803.5 200.9 L802.3 201.8 L801.1 202.8 L800 203.9 L798.9 205 L797.9 206.2 L796.8 207.6 L795.8 209.1 L794.8 210.8 L793.9 212.5 L793 214.2 L792.2 215.8 L791.4 217.2 L790.7 218.3 L790 219.1 L789.4 219.9 L788.8 220.4 L788.2 220.9 L787.7 221.2 L787.2 221.5 L786.7 221.6 L786.2 221.8 L785.6 221.7 L785 221.6 L784.3 221.3 L783.6 220.9 L782.9 220.5 L782.3 220.1 L781.8 219.7 L781.4 219.5 L781.2 219.9 L781.5 220.1 L782 220.5 L782.6 220.9 L783.3 221.4 L784 221.8 L784.8 222.2 L785.5 222.4 L786.2 222.4 L786.9 222.3 L787.5 222.2 L788.1 221.9 L788.7 221.5 L789.3 221 L789.9 220.4 L790.6 219.6 L791.3 218.7 L792.1 217.6 L792.9 216.2 L793.8 214.6 L794.7 212.9 L795.6 211.2 L796.5 209.6 L797.5 208.1 L798.5 206.8 L799.6 205.6 L800.7 204.5 L801.8 203.5 L802.9 202.5 L804.1 201.7 L805.3 200.9 L806.6 200.2 L808.1 199.7 L809.6 199.3 L811.3 199 L813.1 198.9 L815 198.8 L816.9 198.8 L818.8 198.8 L820.6 198.8 L822.4 198.6 L824 198.4 L825.7 198.2 L827.4 198.1 L829 197.9 L830.6 197.6 L832.1 197.3 L833.5 196.8 L834.8 196.2 L835.9 195.5 L836.8 194.6 L837.6 193.7 L838.3 192.7 L839 191.6 L839.5 190.3 L840 189 L840.5 187.4 L841 185.7 L841.3 183.9 L841.6 181.9 L841.8 179.8 L842 177.6 L842.2 175.3 L842.4 172.9 L842.6 170.4 L842.8 167.7 L843 164.8 L843.2 161.7 L843.3 158.6 L843.5 155.4 L843.6 152.3 L843.8 149.2 L843.9 146.3 L844.1 143.3 L844.3 140.3 L844.5 137.3 L844.6 134.3 L844.8 131.5 L844.9 128.9 L845.1 126.6 L845.2 124.6 L845.4 123 L845.5 121.8 L845.7 120.9 L845.8 120.1 L846 119.6 L846.1 119.1 L846.2 118.7 L846.3 118.2Z" fill="#821d20"/>
<path d="M788.7 169.3 L789.5 169 L790.5 168.6 L791.7 168 L793 167.4 L794.4 166.9 L795.7 166.5 L797 166.2 L798.2 166.2 L799.2 166.5 L800.4 166.9 L801.5 167.5 L802.6 168.1 L803.6 168.9 L804.6 169.8 L805.6 170.8 L806.4 171.7 L807.1 172.9 L807.8 174.3 L808.3 175.8 L808.9 177.4 L809.3 178.9 L809.7 180.4 L810.1 181.6 L810.4 182.4 L811.2 182.2 L810.9 181.3 L810.6 180.1 L810.2 178.7 L809.7 177.1 L809.1 175.5 L808.5 173.9 L807.8 172.5 L807 171.3 L806.1 170.2 L805.2 169.2 L804.1 168.3 L803 167.5 L801.8 166.8 L800.6 166.2 L799.4 165.8 L798.2 165.6 L797 165.6 L795.6 165.8 L794.2 166.3 L792.8 166.9 L791.4 167.5 L790.2 168.1 L789.2 168.6 L788.5 168.9Z" fill="#821d20"/>
<path d="M786.3 187.4 L786.7 187.4 L787.3 187.2 L788 187 L788.7 186.8 L789.5 186.6 L790.4 186.6 L791.2 186.7 L792.1 187 L793 187.6 L794.2 188.4 L795.4 189.5 L796.7 190.6 L798 191.7 L799.1 192.8 L800 193.7 L800.7 194.3 L801.3 193.7 L800.6 193.1 L799.6 192.2 L798.5 191.2 L797.2 190 L795.9 188.9 L794.6 187.9 L793.4 187 L792.3 186.4 L791.3 186.1 L790.4 186 L789.4 186 L788.6 186.2 L787.8 186.4 L787.1 186.7 L786.6 186.9 L786.1 187Z" fill="#821d20"/>
<path d="M776.3 201.6 L776.3 202.4 L776.3 203.5 L776.4 204.8 L776.4 206.2 L776.6 207.6 L776.7 209 L777 210.3 L777.4 211.4 L778 212.4 L778.7 213.3 L779.6 214.1 L780.5 214.9 L781.4 215.5 L782.3 216 L783.1 216.3 L783.8 216.4 L784.5 216.2 L785 215.6 L785.3 214.9 L785.6 214.1 L785.9 213.2 L786.1 212.5 L786.3 211.8 L786.4 211.4 L786 211.2 L785.8 211.7 L785.6 212.3 L785.4 213.1 L785.1 213.9 L784.8 214.7 L784.5 215.3 L784.1 215.7 L783.8 215.8 L783.3 215.7 L782.6 215.4 L781.7 215 L780.9 214.4 L780 213.7 L779.2 212.9 L778.5 212 L778 211.2 L777.6 210.2 L777.3 208.9 L777.1 207.6 L777 206.1 L776.9 204.7 L776.9 203.4 L776.8 202.4 L776.7 201.6Z" fill="#821d20"/>
<path d="M812.7 198.2 L812.3 198.6 L811.8 199.1 L811.2 199.8 L810.5 200.5 L809.8 201.3 L809.1 202.1 L808.6 203 L808.1 203.8 L807.8 204.6 L807.6 205.4 L807.3 206.2 L807.2 207 L807.1 208 L807.1 209 L807.3 210.1 L807.6 211.4 L808.1 213 L808.8 214.9 L809.7 216.9 L810.6 219.1 L811.6 221.1 L812.5 223 L813.2 224.6 L813.7 225.8 L814.1 225.6 L813.6 224.5 L812.9 222.9 L812 220.9 L811.1 218.8 L810.2 216.7 L809.4 214.6 L808.7 212.8 L808.2 211.2 L808 210 L807.9 208.9 L807.8 208 L807.9 207.1 L808.1 206.4 L808.3 205.7 L808.6 204.9 L808.9 204.2 L809.3 203.4 L809.8 202.6 L810.4 201.8 L811.1 201.1 L811.8 200.4 L812.4 199.8 L812.9 199.2 L813.3 198.8Z" fill="#821d20"/>
<path d="M797.2 216.2 L797.3 215.7 L797.5 215 L797.7 214.1 L798 213.3 L798.3 212.4 L798.6 211.5 L799 210.8 L799.6 210.2 L800.3 209.7 L801.1 209.4 L802.2 209 L803.3 208.7 L804.3 208.5 L805.3 208.3 L806.2 208.1 L806.8 208 L806.6 207.4 L806 207.6 L805.2 207.7 L804.2 207.9 L803.1 208.2 L802 208.5 L801 208.9 L800 209.3 L799.2 209.8 L798.7 210.5 L798.2 211.3 L797.8 212.2 L797.5 213.1 L797.3 214 L797.1 214.9 L797 215.6 L796.8 216Z" fill="#821d20"/>
<path d="M599.1 430.5 L599.7 430.6 L600.4 430.8 L601.3 431 L602.3 431.2 L603.3 431.5 L604.4 431.8 L605.4 432 L606.5 432.3 L607.5 432.6 L608.5 432.9 L609.5 433.1 L610.6 433.4 L611.6 433.7 L612.6 434 L613.5 434.4 L614.4 434.9 L615.3 435.4 L616.2 435.9 L617.1 436.6 L618 437.2 L618.9 437.9 L619.7 438.7 L620.6 439.4 L621.4 440.3 L622.2 441.2 L623.1 442.1 L623.9 443.1 L624.7 444.2 L625.5 445.3 L626.2 446.4 L626.9 447.5 L627.6 448.6 L628.2 449.6 L628.7 450.6 L629.2 451.6 L629.6 452.7 L630 453.8 L630.4 454.8 L630.8 455.9 L631.2 457 L631.6 458.2 L631.9 459.5 L632.2 460.7 L632.5 462 L632.8 463.3 L633 464.4 L633.2 465.3 L633.4 466 L641.6 462.3 L641.2 461.7 L640.6 461 L640 460 L639.2 459 L638.4 457.9 L637.6 456.8 L636.9 455.7 L636.1 454.6 L635.5 453.6 L634.8 452.7 L634.2 451.7 L633.6 450.6 L632.9 449.6 L632.2 448.6 L631.5 447.5 L630.8 446.4 L629.9 445.4 L629.1 444.3 L628.2 443.2 L627.3 442.1 L626.4 441 L625.5 440 L624.5 439 L623.6 438.1 L622.6 437.2 L621.7 436.4 L620.7 435.6 L619.7 434.9 L618.7 434.2 L617.7 433.6 L616.7 433 L615.6 432.5 L614.5 432 L613.4 431.6 L612.2 431.3 L611.1 431.1 L610 430.9 L608.9 430.7 L607.9 430.5 L606.9 430.4 L605.8 430.2 L604.7 430 L603.6 429.9 L602.5 429.8 L601.5 429.7 L600.6 429.6 L599.8 429.6 L599.2 429.5Z" fill="#821d20"/>
<path d="M645.1 462.7 L644.7 461.9 L644.2 460.9 L643.7 459.7 L643.1 458.4 L642.5 457.1 L641.9 455.9 L641.5 454.8 L641.2 453.8 L641 453 L640.9 452 L640.9 451 L640.9 450 L640.9 448.9 L641 447.8 L641.2 446.7 L641.4 445.6 L641.6 444.6 L641.9 443.6 L642.3 442.6 L642.7 441.5 L643.1 440.5 L643.6 439.4 L644 438.3 L644.3 437.3 L644.6 436.2 L644.8 435.2 L644.9 434.3 L645 433.4 L645.1 432.6 L645.2 431.9 L645.4 431.2 L645.6 430.6 L645.8 430 L646.1 429.5 L646.3 429 L646.5 428.6 L646.8 428.3 L647.2 427.9 L647.7 427.5 L648.3 427 L649 426.5 L650 426.1 L651.1 425.6 L652.4 425.1 L653.7 424.5 L654.9 424 L656.2 423.4 L657.3 422.8 L658.3 422.2 L659.3 421.6 L660.2 421 L661.1 420.3 L662 419.7 L662.8 418.9 L663.5 418.2 L664.2 417.4 L664.8 416.6 L665.4 415.7 L665.9 414.7 L666.3 413.8 L666.6 412.9 L666.9 411.9 L667.1 411 L667.2 410.1 L667.3 409.2 L667.2 408.4 L667 407.6 L666.8 406.8 L666.5 406 L666.2 405.3 L665.9 404.6 L665.5 403.9 L665.1 403.2 L664.7 402.5 L664.1 401.7 L663.6 401 L663.1 400.4 L662.6 399.8 L662.2 399.4 L661.9 399 L661.4 399.3 L661.7 399.7 L662 400.3 L662.4 400.9 L662.9 401.6 L663.4 402.3 L663.8 403 L664.2 403.7 L664.5 404.4 L664.7 405.1 L664.9 405.8 L665.2 406.5 L665.3 407.2 L665.5 407.9 L665.5 408.5 L665.5 409.2 L665.4 409.9 L665.3 410.6 L665 411.4 L664.7 412.2 L664.4 413 L664 413.8 L663.5 414.5 L663 415.3 L662.4 415.9 L661.9 416.6 L661.2 417.2 L660.5 417.7 L659.7 418.3 L658.8 418.9 L657.9 419.4 L657 420 L656 420.5 L655 421 L653.9 421.5 L652.7 422.1 L651.4 422.5 L650.1 423.1 L648.9 423.6 L647.7 424.1 L646.7 424.7 L645.9 425.2 L645.3 425.8 L644.7 426.3 L644.2 426.9 L643.8 427.5 L643.4 428.1 L643.1 428.7 L642.7 429.4 L642.4 430.2 L642.1 431 L641.9 431.9 L641.7 432.8 L641.4 433.6 L641.2 434.4 L641 435.3 L640.7 436.1 L640.3 436.9 L639.9 437.8 L639.4 438.8 L638.9 439.8 L638.4 440.9 L637.9 442 L637.4 443.2 L637 444.4 L636.5 445.5 L636.1 446.6 L635.7 447.8 L635.3 449 L635 450.3 L634.7 451.6 L634.5 453 L634.4 454.5 L634.5 456.1 L634.8 457.8 L635.1 459.4 L635.4 461 L635.8 462.5 L636.2 463.8 L636.4 464.9 L636.6 465.6Z" fill="#821d20"/>
<path d="M643.1 437.2 L643.9 437.1 L645 437 L646.2 436.9 L647.6 436.8 L649.1 436.7 L650.6 436.6 L652.1 436.4 L653.5 436.3 L654.9 436.1 L656.3 435.9 L657.7 435.8 L659.2 435.6 L660.7 435.4 L662.2 435.1 L663.7 434.9 L665.3 434.6 L666.9 434.2 L668.6 433.9 L670.3 433.5 L672 433.1 L673.8 432.7 L675.5 432.2 L677.2 431.7 L678.8 431.2 L680.5 430.6 L682.1 430 L683.7 429.3 L685.2 428.6 L686.7 427.9 L688.1 427.3 L689.5 426.7 L690.6 426.1 L691.8 425.6 L692.8 425.1 L693.8 424.7 L694.7 424.3 L695.5 423.9 L696.2 423.5 L696.8 423.3 L697.3 423 L696 420.3 L695.6 420.5 L695 420.8 L694.2 421.1 L693.4 421.4 L692.5 421.8 L691.5 422.3 L690.5 422.7 L689.4 423.2 L688.1 423.7 L686.8 424.4 L685.4 425 L683.9 425.7 L682.4 426.4 L680.9 427 L679.3 427.6 L677.8 428.2 L676.3 428.6 L674.6 429.1 L673 429.6 L671.3 430 L669.6 430.4 L667.9 430.8 L666.3 431.1 L664.7 431.4 L663.2 431.7 L661.7 432 L660.2 432.2 L658.8 432.4 L657.3 432.6 L655.9 432.7 L654.5 432.9 L653.1 433.1 L651.7 433.2 L650.3 433.4 L648.8 433.6 L647.3 433.7 L645.9 433.9 L644.7 434 L643.7 434.1 L642.9 434.2Z" fill="#821d20"/>
<path d="M639 464 L640.2 463.6 L641.7 463.1 L643.4 462.6 L645.4 461.9 L647.5 461.2 L649.6 460.6 L651.7 460 L653.8 459.4 L655.7 458.9 L657.8 458.4 L659.8 458 L661.9 457.6 L664 457.1 L666.1 456.7 L668.2 456.3 L670.3 455.8 L672.4 455.4 L674.6 455 L676.8 454.6 L679 454.2 L681.2 453.8 L683.3 453.4 L685.3 452.9 L687.1 452.4 L688.8 451.8 L690.3 451.2 L691.7 450.6 L693 450 L694.2 449.3 L695.4 448.6 L696.5 447.8 L697.6 447 L698.7 446.1 L699.6 445.1 L700.5 444.1 L701.4 443.1 L702.2 442.1 L702.9 441.1 L703.7 440.2 L704.4 439.3 L705.3 438.5 L706.1 437.6 L707 436.7 L707.8 435.9 L708.7 435 L709.5 434.2 L710.3 433.5 L711 432.8 L711.7 432.1 L712.5 431.5 L713.2 430.9 L713.9 430.3 L714.5 429.8 L715.1 429.4 L715.6 429 L715.9 428.7 L714.1 426.3 L713.7 426.6 L713.2 427 L712.6 427.5 L712 428 L711.3 428.6 L710.5 429.2 L709.7 429.9 L709 430.6 L708.2 431.3 L707.4 432.1 L706.6 432.9 L705.7 433.7 L704.8 434.6 L704 435.5 L703.1 436.4 L702.2 437.3 L701.4 438.3 L700.6 439.3 L699.8 440.3 L699 441.3 L698.3 442.2 L697.5 443.1 L696.7 443.9 L695.7 444.6 L694.8 445.4 L693.7 446 L692.7 446.6 L691.6 447.2 L690.4 447.8 L689.1 448.3 L687.7 448.8 L686.2 449.3 L684.5 449.8 L682.6 450.2 L680.6 450.6 L678.5 451 L676.3 451.4 L674 451.7 L671.8 452.1 L669.7 452.5 L667.6 452.9 L665.5 453.3 L663.3 453.7 L661.2 454.1 L659.1 454.4 L657 454.8 L654.9 455.2 L652.9 455.6 L650.8 456 L648.6 456.4 L646.4 456.9 L644.2 457.3 L642.1 457.8 L640.3 458.1 L638.8 458.4 L637.6 458.7Z" fill="#821d20"/>
<path d="M702.2 440.5 L703.1 440.4 L704.2 440.2 L705.7 440 L707.2 439.8 L708.9 439.6 L710.5 439.3 L712.1 439 L713.6 438.8 L714.9 438.5 L716.2 438.3 L717.5 438 L718.7 437.7 L720 437.4 L721.2 437.1 L722.5 436.7 L723.8 436.2 L725 435.8 L726.2 435.3 L727.4 434.8 L728.6 434.3 L729.8 433.6 L731.1 432.9 L732.5 432.1 L734.1 431.1 L735.8 429.8 L737.9 428.3 L740 426.6 L742.2 424.8 L744.4 423.1 L746.3 421.5 L747.9 420.2 L749.1 419.3 L747.6 417.4 L746.4 418.3 L744.8 419.6 L742.8 421.2 L740.7 422.9 L738.5 424.6 L736.3 426.3 L734.3 427.7 L732.6 428.9 L731.2 429.9 L729.8 430.6 L728.6 431.3 L727.5 431.9 L726.3 432.4 L725.2 432.9 L724.1 433.3 L722.9 433.8 L721.7 434.2 L720.5 434.6 L719.3 434.9 L718.1 435.2 L716.9 435.4 L715.7 435.7 L714.4 436 L713.1 436.2 L711.7 436.5 L710.1 436.8 L708.5 437.1 L706.9 437.3 L705.3 437.6 L703.9 437.8 L702.7 438 L701.8 438.1Z" fill="#821d20"/>
<path d="M694.1 448.6 L695.1 448.6 L696.4 448.6 L697.9 448.7 L699.6 448.8 L701.3 448.8 L703.2 448.8 L705 448.8 L706.7 448.8 L708.3 448.7 L710 448.7 L711.6 448.6 L713.3 448.5 L715 448.3 L716.7 448.2 L718.4 448 L720.1 447.7 L721.8 447.4 L723.5 447 L725.2 446.5 L726.9 446.1 L728.6 445.6 L730.3 445.1 L731.9 444.7 L733.5 444.2 L735 443.8 L736.6 443.4 L738.1 442.9 L739.6 442.5 L741.1 442.1 L742.5 441.8 L743.8 441.5 L745 441.4 L746.2 441.3 L747.3 441.3 L748.4 441.4 L749.3 441.5 L750.3 441.7 L751.3 441.9 L752.2 442.2 L753.2 442.4 L754.2 442.8 L755.3 443.2 L756.4 443.7 L757.4 444.3 L758.5 444.8 L759.4 445.3 L760.2 445.7 L760.7 446 L760.9 445.7 L760.4 445.3 L759.6 444.9 L758.7 444.3 L757.8 443.7 L756.7 443.1 L755.6 442.5 L754.5 442 L753.5 441.6 L752.5 441.2 L751.5 441 L750.5 440.7 L749.5 440.5 L748.5 440.3 L747.4 440.2 L746.2 440.2 L745 440.3 L743.6 440.4 L742.2 440.7 L740.8 441 L739.3 441.4 L737.8 441.8 L736.3 442.3 L734.7 442.7 L733.2 443.1 L731.6 443.5 L730 443.9 L728.3 444.4 L726.6 444.8 L724.9 445.3 L723.2 445.7 L721.5 446 L719.9 446.3 L718.2 446.5 L716.6 446.7 L714.9 446.9 L713.2 447 L711.6 447.1 L709.9 447.1 L708.3 447.2 L706.7 447.2 L705 447.2 L703.2 447.2 L701.4 447.1 L699.6 447 L697.9 447 L696.4 446.9 L695.2 446.8 L694.2 446.8Z" fill="#821d20"/>
</g>
<circle cx="873.9" cy="188.9" r="3.7" fill="#7a1c22" stroke="#5a1418" stroke-width="0.9"/>
<circle cx="888.9" cy="193.9" r="3.7" fill="#7a1c22" stroke="#5a1418" stroke-width="0.9"/>
<circle cx="841.5" cy="199.3" r="3.7" fill="#d83b2a" stroke="#b52a22" stroke-width="0.9"/>
<circle cx="856.3" cy="200.6" r="3.7" fill="#7a1c22" stroke="#5a1418" stroke-width="0.9"/>
<circle cx="870" cy="201.1" r="3.7" fill="#d83b2a" stroke="#b52a22" stroke-width="0.9"/>
<circle cx="883" cy="205.5" r="3.7" fill="#d83b2a" stroke="#b52a22" stroke-width="0.9"/>
<circle cx="831.1" cy="207.1" r="3.7" fill="#d83b2a" stroke="#b52a22" stroke-width="0.9"/>
<circle cx="842" cy="212.8" r="3.7" fill="#7a1c22" stroke="#5a1418" stroke-width="0.9"/>
<circle cx="862.7" cy="214.9" r="3.7" fill="#7a1c22" stroke="#5a1418" stroke-width="0.9"/>
<circle cx="878.6" cy="215.6" r="3.7" fill="#7a1c22" stroke="#5a1418" stroke-width="0.9"/>
<circle cx="868.7" cy="223.4" r="3.7" fill="#7a1c22" stroke="#5a1418" stroke-width="0.9"/>
<circle cx="855.7" cy="225.2" r="3.7" fill="#d83b2a" stroke="#b52a22" stroke-width="0.9"/>
<circle cx="829.8" cy="227" r="3.7" fill="#d83b2a" stroke="#b52a22" stroke-width="0.9"/>
<circle cx="844.6" cy="230.4" r="3.7" fill="#7a1c22" stroke="#5a1418" stroke-width="0.9"/>
<circle cx="879.1" cy="228.9" r="3.7" fill="#d83b2a" stroke="#b52a22" stroke-width="0.9"/>
<circle cx="891.3" cy="229.6" r="3.7" fill="#d83b2a" stroke="#b52a22" stroke-width="0.9"/>
<circle cx="835" cy="237.4" r="3.7" fill="#d83b2a" stroke="#b52a22" stroke-width="0.9"/>
<circle cx="860.9" cy="237.4" r="3.7" fill="#7a1c22" stroke="#5a1418" stroke-width="0.9"/>
<circle cx="849.8" cy="242.6" r="3.7" fill="#7a1c22" stroke="#5a1418" stroke-width="0.9"/>
<circle cx="827.7" cy="247" r="3.7" fill="#d83b2a" stroke="#b52a22" stroke-width="0.9"/>
<circle cx="838.9" cy="248.6" r="3.7" fill="#7a1c22" stroke="#5a1418" stroke-width="0.9"/>
<path d="M84.7 330.6C84.6 331.3 84.2 333.2 84 333.7C83.8 334.3 83.2 335.7 82.9 336.3C82.7 336.9 82.1 339.2 81.3 340C80.6 340.8 76.6 343.8 75.8 344.4C75 344.9 73.9 345.4 73.3 345.6C72.6 345.8 70.4 346.1 69.6 346.2C68.8 346.3 66.1 346.9 65.3 346.8C64.5 346.8 62.4 345.7 61.6 345.5C60.8 345.2 58 344.7 57.3 344.1C56.6 343.6 54.7 340.7 54.2 340C53.7 339.3 52.8 337.6 52.4 337C52 336.3 50.5 334.3 50.3 333.4C50.1 332.6 50.5 329.4 50.6 328.7C50.7 328 50.9 327.3 51 326.6C51.2 325.9 52.1 322.6 52.5 321.8C52.9 321 54.4 319.5 54.8 318.9C55.3 318.3 56.7 316.4 57.3 315.8C58 315.3 61.1 313.5 61.8 313.2C62.5 313 63.7 313.6 64.4 313.6C65.2 313.6 68.5 313.2 69.5 313.3C70.6 313.4 73.9 314.2 74.7 314.5C75.5 314.7 76.7 315.2 77.3 315.7C78 316.1 80.5 318.5 81 319.1C81.5 319.7 82 321.3 82.3 322C82.7 322.8 84.1 326 84.3 326.8C84.6 327.7 84.7 329.9 84.7 330.6Z" fill="#e6e7e8" stroke="#a1a3a6" stroke-width="1" stroke-linejoin="round"/>
<path d="M60.9 319.9C62.5 319.2 65.9 319.2 68.1 319.3C70.3 319.4 72.6 319.7 74.1 320.5C75.7 321.3 76.5 322.5 77.2 324.1C77.8 325.7 78 328.2 78 330.1C78 332 77.8 334.1 77.2 335.5C76.5 337 75.7 338.1 74.1 338.8C72.6 339.5 70.1 339.7 68.1 339.8C66.1 339.8 63.7 339.9 62.1 339.2C60.5 338.5 59.3 337.1 58.5 335.5C57.7 333.9 57.3 331.5 57.3 329.5C57.2 327.5 57.6 325.1 58.2 323.5C58.8 321.9 59.2 320.6 60.9 319.9Z" fill="#97999c"/>
<ellipse cx="67.9" cy="328" rx="1.8" ry="1.3" fill="#c3c5c7"/>
<path d="M112 283.6C111.8 284.7 111.4 286.9 111.2 287.6C110.9 288.4 110.1 290.5 109.4 291.1C108.8 291.7 105.7 293.4 105 293.8C104.3 294.2 103.8 295.1 102.9 295.4C101.9 295.8 96.6 297 95.8 297.2C94.9 297.4 95.2 297.9 94.3 297.8C93.4 297.6 88 296.1 87 295.6C85.9 295.2 84.7 294.1 83.9 293.7C83.2 293.4 80 292.6 79.4 292.2C78.9 291.9 78.5 290.9 78.2 290.1C77.9 289.4 76.7 285.8 76.2 284.8C75.8 283.7 73.8 280.5 73.8 279.7C73.7 278.8 75.5 277.3 75.7 276.5C75.9 275.7 75.6 272.7 75.8 272C75.9 271.2 76.7 269.6 77.1 268.9C77.6 268.2 79.4 265.6 80.1 265C80.9 264.3 83.7 262.6 84.4 262.1C85.1 261.6 86.4 260.1 87.1 259.8C87.8 259.5 90.3 259.1 91.2 259.1C92.1 259 95.2 258.9 96.1 259.2C97.1 259.4 99.6 260.7 100.5 261.1C101.4 261.5 104.3 262.7 105.2 263.3C106.1 263.9 108.7 266.6 109.2 267.3C109.7 267.9 110 268.9 110.3 269.7C110.6 270.5 112.2 274.9 112.5 275.6C112.7 276.4 113.1 276.2 113.1 277C113 277.8 112.2 282.6 112 283.6Z" fill="#e6e7e8" stroke="#a1a3a6" stroke-width="1" stroke-linejoin="round"/>
<path d="M86.3 267.7C87.5 267.4 89.7 268.4 91.1 268.3C92.5 268.2 93.5 267.4 94.7 267.1C95.9 266.7 97.1 265.9 98.3 266.1C99.5 266.3 100.8 267.3 102 268.3C103.1 269.2 104.2 270.8 105 271.9C105.7 273 106.5 273.9 106.4 274.9C106.3 275.9 104.7 276.7 104.4 277.7C104 278.6 104 279.5 104.4 280.6C104.7 281.6 106.3 282.8 106.4 283.9C106.5 285.1 105.9 286.4 105 287.6C104 288.7 102.3 289.8 100.7 290.6C99.2 291.4 97.5 292.1 95.9 292.4C94.3 292.7 92.6 292.8 91.1 292.4C89.6 292 88.1 291.2 86.9 290C85.7 288.8 84.6 286.9 83.9 285.1C83.1 283.4 82.5 281.5 82.3 279.7C82.1 277.9 82.4 275.9 82.7 274.3C82.9 272.7 83.3 271.2 83.9 270.1C84.5 269 85.1 268 86.3 267.7Z" fill="#97999c"/>
<ellipse cx="95.1" cy="277.1" rx="2.8" ry="2.1" fill="#c3c5c7"/>
<path d="M149.9 230.3C149.7 231.2 149 234.2 148.7 235.2C148.4 236.1 147.5 239.4 146.8 240.2C146.2 241.1 142.7 243.3 142.1 243.8C141.5 244.3 141.3 244.6 140.7 244.9C140.2 245.2 137.8 246.1 136.7 246.5C135.6 246.9 130.7 248.9 129.6 248.9C128.5 249 126.2 247.2 125.6 247.1C124.9 247 123.9 248.3 123.1 248.1C122.4 247.8 119.1 245.4 118.2 244.9C117.3 244.3 115.1 243.3 114.4 242.5C113.8 241.7 112.6 237.5 112.1 236.5C111.6 235.5 109.6 233.4 109.2 232.5C108.9 231.7 108.7 228.7 108.6 228.1C108.6 227.4 108.8 226.7 108.8 226.1C108.8 225.5 108.6 223 108.9 222C109.3 221 111.9 216.8 112.6 215.8C113.2 214.9 115.1 213.1 115.5 212.6C115.9 212.1 115.6 211 116.4 210.6C117.3 210.1 122.9 208.2 123.7 207.8C124.6 207.4 124.2 206.8 124.9 206.6C125.6 206.5 129.4 206.4 130.6 206.4C131.8 206.5 136 206.7 136.8 207C137.7 207.2 138.2 208.9 138.9 209.4C139.6 209.8 143 210.9 143.8 211.5C144.5 212 145.8 214.2 146.3 214.9C146.7 215.6 147.9 217.5 148.3 218.1C148.7 218.7 149.9 220.3 150.2 221.2C150.5 222.1 151.3 226 151.3 226.9C151.3 227.9 150.2 229.5 149.9 230.3Z" fill="#e6e7e8" stroke="#a1a3a6" stroke-width="1" stroke-linejoin="round"/>
<path d="M121.7 215.5C123.3 214.7 126 214.6 127.7 214.9C129.4 215.2 130.7 216.4 131.9 217.3C133.1 218.2 133.6 219.6 134.9 220.3C136.2 221 138.5 220.8 139.8 221.5C141.1 222.2 142.1 223.3 142.8 224.5C143.4 225.7 143.6 227.1 143.6 228.7C143.6 230.3 143.3 232.4 142.8 234.1C142.2 235.9 141.5 237.6 140.4 239C139.3 240.3 137.8 241.6 136.1 242.3C134.5 243.1 132.4 243.6 130.7 243.5C129 243.5 127.1 242.7 125.9 242C124.7 241.2 124.6 239.6 123.5 239C122.4 238.4 120.6 239 119.3 238.4C118 237.8 116.6 236.6 115.7 235.3C114.8 234.1 114 232.5 113.9 231.1C113.8 229.7 114.4 228.1 115.1 226.9C115.8 225.7 117.6 225.1 118.1 223.9C118.6 222.7 117.5 221.1 118.1 219.7C118.7 218.3 120.1 216.3 121.7 215.5Z" fill="#97999c"/>
<path d="M128.3 223.5 L132.3 226.7 L129.5 231.5 L124.7 227.9Z" fill="#c3c5c7"/>
<path d="M210.2 182.4C210 183.3 208 185.6 207.6 186.4C207.3 187.3 207.3 190.2 206.6 191.2C205.9 192.3 201.6 195.9 200.7 196.8C199.9 197.7 198.4 199.9 197.8 200.3C197.2 200.7 195.2 200.2 194.4 200.6C193.6 201 191.1 203.6 189.9 203.9C188.6 204.2 182.8 203.8 182 203.8C181.2 203.9 182.1 204.2 181.8 204.4C181.5 204.6 179.1 205.6 178.6 205.7C178 205.8 176.3 205.3 176.2 205C176 204.8 177.5 203.4 177.4 203.2C177.4 202.9 175.9 202.3 175.5 202.3C175 202.3 173.1 202.7 172.9 202.8C172.7 202.9 173.9 203.4 173.5 203.3C173.1 203.1 170.1 201.9 169.2 201.3C168.2 200.7 165 198 164.2 197.3C163.4 196.6 162 195.1 161.4 194.5C160.8 193.8 158.7 192.1 158.2 191.1C157.7 190 157 184.8 156.7 183.9C156.4 182.9 155.1 182.5 155 181.6C155 180.6 155.8 175.6 155.9 174.5C156 173.3 155.6 171 155.9 169.9C156.1 168.7 157.9 164 158.3 163.1C158.7 162.2 159.2 161.7 159.9 161C160.7 160.4 165.3 157 166.1 156.3C166.8 155.6 166.3 154.5 167.2 154C168.1 153.5 174 151.7 175 151.4C176 151.1 176.4 151.2 177 151.2C177.7 151.1 180.8 150.8 181.8 150.8C182.8 150.7 185.8 150.2 186.9 150.4C187.9 150.6 190.7 152 191.9 152.6C193.2 153.2 198.6 155.7 199.6 156.2C200.5 156.8 201 157.8 201.4 158.5C201.9 159.1 203.6 161.7 204.2 162.8C204.8 163.8 207.1 168 207.6 168.8C208 169.7 208.6 170.5 208.8 171.3C209 172.1 209.5 175.9 209.6 177C209.8 178.1 210.4 181.5 210.2 182.4Z" fill="#e6e7e8" stroke="#a1a3a6" stroke-width="1" stroke-linejoin="round"/>
<path d="M177.2 158.2C178.9 157.8 181.1 157.5 182.8 157.8C184.6 158 186.4 158.8 187.8 159.6C189.2 160.4 190 161.8 191.3 162.7C192.6 163.5 194.1 163.9 195.5 164.8C196.9 165.7 198.6 166.9 199.7 168.3C200.8 169.7 201.6 171.5 202.1 173.2C202.6 175 202.8 177.2 202.5 178.8C202.2 180.5 201.4 182 200.4 183.1C199.5 184.1 197.6 184.2 196.9 185.2C196.2 186.1 196.7 187.4 196.2 188.7C195.7 190 195.3 191.8 194.1 192.9C192.9 194 190.9 194.9 189.2 195.3C187.4 195.7 185.2 195.7 183.5 195.3C181.9 194.9 180.2 194 179 192.9C177.9 191.8 177.5 190 176.8 188.7C176.1 187.4 176.1 186 175.1 185.2C174.1 184.4 172.3 184.5 170.9 183.8C169.5 183.1 167.8 182.1 166.7 181C165.6 179.8 164.5 178.3 164.1 176.7C163.8 175.2 164.1 173.5 164.6 171.8C165 170.2 165.9 168.4 166.7 166.9C167.5 165.4 168.4 163.9 169.5 162.7C170.5 161.5 171.7 160.6 173 159.9C174.3 159.1 175.6 158.5 177.2 158.2Z" fill="#97999c"/>
<path d="M180 164.4C181 164.5 182.7 165.4 183.8 166.2C185 167 186 168.1 187.1 169C188.1 169.9 189.3 170.8 190.3 171.8C191.3 172.9 192.5 174.2 193.1 175.3C193.7 176.5 194 177.9 193.7 178.8C193.4 179.8 192.3 180.7 191.3 181.2C190.3 181.8 188.7 181.6 187.8 182.1C186.8 182.5 186.1 183.2 185.7 184C185.2 184.9 185.4 186.6 185 187.3C184.5 187.9 183.4 188.2 182.8 188C182.3 187.7 181.7 186.7 181.4 185.9C181.1 185.1 181.5 183.8 181 183.1C180.5 182.3 179.6 181.6 178.6 181.2C177.6 180.8 176.2 181.2 175.1 180.7C174 180.2 172.7 179.1 172 178.1C171.4 177.1 171 175.8 171.2 174.6C171.3 173.5 172.2 172.3 173 171.1C173.8 169.9 175 168.6 175.8 167.6C176.6 166.6 177.2 165.7 177.9 165.2C178.6 164.7 179 164.2 180 164.4Z" fill="#c3c5c7"/>
<path d="M289.6 125.9C289.5 127.1 287 130.7 286.6 131.7C286.2 132.8 286 135.3 285.9 136.1C285.8 136.9 285.6 139.2 285.1 140C284.6 140.8 281.8 143.1 281.2 143.9C280.5 144.8 279 147.6 278.4 148.5C277.8 149.5 276.1 152.6 275.2 153.4C274.4 154.3 271.3 156.2 269.8 156.6C268.4 157.1 262.3 157.8 260.9 158.2C259.4 158.6 256.2 160.6 255.4 160.6C254.5 160.7 253.2 159.1 252.4 158.9C251.7 158.7 248.9 159.1 247.7 158.7C246.5 158.3 241.5 155.5 240.2 155C239 154.6 236.2 154.2 235.4 153.8C234.6 153.4 233.2 152.4 232.4 151.4C231.5 150.4 228 145 227.2 143.9C226.4 142.9 224.7 141.6 224.2 140.6C223.7 139.5 222.7 134.9 222.2 133.6C221.7 132.4 219.5 129.5 219.4 128.5C219.2 127.4 220.3 124.6 220.3 123.4C220.3 122.3 219.2 118 219.4 117.1C219.6 116.2 221.9 115.3 222.5 114.3C223 113.4 224.5 108.4 224.7 107.3C224.9 106.2 224.6 104.2 224.8 103.7C225 103.1 226.3 101.8 226.6 101.9C226.9 101.9 227.8 104.1 228.1 104.2C228.4 104.3 229.6 103.3 229.8 102.9C230 102.5 230 100.7 230.3 100.1C230.5 99.6 231.7 97.7 232.3 97.3C232.9 97 235.2 96.9 236.2 96.4C237.1 95.9 240.7 93 241.9 92.5C243.1 92.1 247.1 91.9 247.9 91.8C248.7 91.8 249.1 92.2 250.2 92C251.2 91.9 257.1 90.5 258.5 90.5C259.8 90.6 262.8 92.4 263.9 92.8C265 93.2 268.3 94 269.3 94.3C270.4 94.6 273.8 95.3 274.4 95.8C275.1 96.3 275 98.4 275.8 99.2C276.6 99.9 281.5 102.7 282.4 103.5C283.4 104.2 285 105.5 285.5 106.6C286.1 107.7 287.7 113.1 287.9 114.4C288.2 115.8 287.6 119 287.8 120.1C288 121.3 289.7 124.7 289.6 125.9Z" fill="#e6e7e8" stroke="#a1a3a6" stroke-width="1" stroke-linejoin="round"/>
<path d="M257.2 102.1C258.9 101.7 260.3 102.2 261.9 102.9C263.4 103.5 265 104.7 266.6 106C268.1 107.3 269.8 109 271.2 110.7C272.7 112.4 274 114.2 275.2 116.2C276.3 118.1 277.4 120.3 278 122.4C278.5 124.5 278.6 126.7 278.3 128.7C277.9 130.6 277 132.6 275.9 134.1C274.9 135.7 273.6 137 272 138C270.5 139.1 268.1 139.6 266.6 140.4C265 141.2 263.7 141.7 262.6 142.7C261.6 143.8 261.2 145.5 260.3 146.7C259.4 147.8 258.6 148.9 257.2 149.5C255.7 150 253.6 150.1 251.7 150.1C249.7 150.1 247.3 149.9 245.4 149.5C243.6 149 241.9 148.6 240.7 147.4C239.6 146.3 239.2 144.3 238.4 142.7C237.6 141.2 237.1 139.5 236.1 138C235 136.6 233.3 135.6 232.1 134.1C231 132.7 229.7 131.1 229 129.4C228.4 127.8 228.1 125.8 228.2 124C228.4 122.2 229 120.2 229.8 118.5C230.6 116.8 231.6 115 232.9 113.8C234.2 112.6 236.1 111.8 237.6 111.5C239.2 111.2 241 111.7 242.3 111.9C243.6 112.2 244.4 113.4 245.4 113C246.5 112.7 247.5 111.2 248.6 109.9C249.6 108.6 250.3 106.5 251.7 105.2C253.1 103.9 255.5 102.5 257.2 102.1Z" fill="#97999c"/>
<path d="M255.6 112.2C256.9 111.9 258.9 112 260.3 112.6C261.7 113.1 263 114 264.2 115.4C265.4 116.8 266.6 119 267.3 120.8C268.1 122.7 268.7 124.6 268.6 126.3C268.5 128 267.7 129.8 266.6 131C265.4 132.2 263.6 132.6 261.9 133.4C260.2 134.1 258.2 134.7 256.4 135.4C254.6 136.1 252.6 137.1 250.9 137.6C249.2 138 247.5 138.4 246.2 138C244.9 137.7 243.7 136.7 243.1 135.7C242.5 134.7 242.5 133.1 242.6 131.8C242.7 130.5 243.6 129.1 243.6 127.9C243.5 126.7 242.9 125.7 242.3 124.8C241.7 123.8 240.2 123.3 240 122.4C239.7 121.5 240.1 120 240.7 119.3C241.4 118.6 242.7 118.2 243.9 118.2C245 118.2 246.6 119.4 247.8 119.3C249 119.2 250.1 118.5 250.9 117.7C251.7 116.9 251.7 115.5 252.5 114.6C253.3 113.7 254.3 112.6 255.6 112.2Z" fill="#c3c5c7"/>
<path d="M408.3 81.8C408.3 83.1 409.3 87.5 409.1 88.6C408.9 89.6 406.6 91.1 406 91.9C405.3 92.8 403.2 96.2 402.5 97.3C401.8 98.3 399.8 101.6 399 102.6C398.1 103.5 394.8 105.9 394.1 106.6C393.4 107.3 393.1 108.9 392.1 109.4C391.2 109.8 386.1 110.9 384.6 111.3C383.2 111.6 378.8 112.7 377.6 112.9C376.5 113.1 373.9 112.9 373 113.1C372.1 113.3 369.6 114.8 368.7 114.8C367.8 114.9 365.3 114.3 364.1 113.8C362.9 113.4 357.7 110.8 356.5 110.5C355.3 110.2 353.3 111.2 352.5 110.9C351.7 110.5 349.6 108.2 348.6 107.1C347.5 106 343.1 100.8 342.1 99.9C341.1 99.1 339.3 98.9 338.6 98.2C337.9 97.5 335.8 94.1 335.2 93.1C334.6 92.2 332.7 90 332.5 88.6C332.4 87.2 333.6 80.8 333.4 79.5C333.3 78.2 331.3 76 331.1 75.4C331 74.8 332.4 74.1 332.3 73.6C332.3 73 330.6 70.8 330.5 70.3C330.3 69.7 330.9 68 331.2 67.9C331.6 67.8 333.6 69.3 334 69.2C334.4 69.2 335 67.8 335 67.3C335 66.8 333.9 65 333.8 64.6C333.8 64.2 334.4 63.6 334.7 63C334.9 62.4 335.4 59.2 336.1 58.2C336.7 57.2 340.6 54 341.3 53C341.9 52.1 342.3 49.3 342.9 48.7C343.4 48.1 345.7 48 346.5 47.2C347.2 46.4 349.2 41.8 350.2 41.1C351.2 40.4 355.3 40.4 356.6 40.2C357.8 40 361.7 39.3 362.6 39C363.6 38.7 364.7 37.1 365.9 37C367.2 36.8 373.5 37.3 375 37.5C376.6 37.6 380.2 38.3 381.4 38.5C382.7 38.6 386.4 38.8 387.4 39.2C388.4 39.6 390.8 42.1 391.6 42.5C392.4 43 394.7 43.4 395.4 43.9C396.1 44.5 397.5 46.9 398.4 47.9C399.4 48.8 404.1 52.1 404.7 53.3C405.4 54.5 404.9 58.9 405.1 60C405.2 61.2 405.7 64.2 406.1 65.2C406.5 66.1 408.6 68.6 408.9 69.6C409.2 70.6 409.3 74.2 409.2 75.4C409.2 76.7 408.3 80.5 408.3 81.8Z" fill="#e6e7e8" stroke="#a1a3a6" stroke-width="1" stroke-linejoin="round"/>
<path d="M351.8 66.2C353.3 65.4 355.8 64.3 357.3 63.8C358.9 63.3 360.2 63.7 361 63.3C361.8 62.8 361.8 62 361.9 61.1C362 60.1 361.6 58.8 361.6 57.4C361.5 56 361.3 54.3 361.6 52.8C361.8 51.3 362.2 49.6 363.2 48.2C364.2 46.8 365.8 45.4 367.4 44.5C369.1 43.7 371.1 43 373 43C374.8 43 376.8 43.7 378.5 44.5C380.2 45.4 381.7 47.1 383.1 48.2C384.5 49.3 385.5 50.3 386.8 50.9C388 51.6 389.1 51.7 390.4 51.9C391.8 52 393.5 51.4 395 51.9C396.6 52.3 398.4 53.2 399.6 54.6C400.9 56 401.9 58.3 402.4 60.1C402.8 62 402.8 63.8 402.4 65.7C401.9 67.5 400.9 69.8 399.6 71.2C398.4 72.6 396.4 73.4 395 73.9C393.6 74.5 392.4 74.6 391.4 74.3C390.3 74 389.2 73.2 388.6 72.1C388 71 387.9 69 387.7 67.5C387.5 66 387.6 64.1 387.3 62.9C387 61.7 386.6 60.8 385.8 60.1C385.1 59.5 383.9 59.2 382.7 58.9C381.5 58.6 379.8 58.7 378.5 58.3C377.2 57.9 375.9 56.9 374.8 56.5C373.7 56 373 55.5 372 55.5C371.1 55.6 370.1 56.3 369.3 57C368.4 57.8 367.6 59 366.9 60.1C366.2 61.3 365.2 62.8 365 63.8C364.9 64.8 365.4 65.3 366.2 66.2C366.9 67.1 368.4 67.9 369.3 69.3C370.2 70.8 371.3 73 371.7 74.9C372.1 76.7 371.9 78.8 371.7 80.4C371.4 82 370.7 83.5 370.2 84.6C369.6 85.7 368.9 86.2 368.4 86.8C367.8 87.4 366.9 87.7 366.9 88.3C366.9 88.9 367.7 89.7 368.4 90.5C369.1 91.3 370.4 93.1 371.1 93.3C371.9 93.4 372.6 92.2 373 91.4C373.4 90.6 372.9 89.4 373.5 88.3C374.1 87.2 375.3 85.7 376.6 84.6C377.9 83.5 379.7 82.3 381.2 81.7C382.8 81.1 384.5 80.6 385.8 80.9C387.1 81.2 388.3 82.2 389 83.5C389.7 84.8 390.1 86.9 390.1 88.7C390 90.4 389.4 92.5 388.6 94.2C387.7 95.9 386.4 97.5 384.9 98.8C383.4 100.1 381.4 101.3 379.4 101.9C377.4 102.5 374.9 102.8 373 102.5C371 102.1 369 100.9 367.4 99.7C365.9 98.5 364.7 96.5 363.8 95.1C362.8 93.7 362.5 92.2 361.9 91.4C361.3 90.6 361.2 90.3 360.1 90.1C359 89.9 357.2 90.5 355.5 90.1C353.8 89.7 351.5 88.9 350 87.7C348.4 86.6 347.1 84.8 346.3 83.1C345.5 81.5 345 79.5 345 77.6C345 75.8 345.7 73.6 346.3 72.1C346.9 70.6 347.6 69.4 348.5 68.4C349.4 67.4 350.3 67 351.8 66.2Z" fill="#97999c"/>
<path d="M639.4 133.2C639.4 134.4 637.6 136.3 637.4 137.4C637.1 138.5 636.9 142.9 636.5 144C636.1 145.2 633.6 147.8 633 148.9C632.5 150 631.2 154.4 630.9 155.1C630.5 155.9 630 155.4 629.4 156.1C628.9 156.7 626.5 160.8 625.3 161.7C624.2 162.7 618.8 164.8 617.7 165.6C616.5 166.3 614.8 168.7 613.7 169.2C612.5 169.7 607.3 170.5 606.3 170.5C605.2 170.5 604.6 169.7 603.7 169.6C602.7 169.5 598.6 169.6 597.2 169.7C595.7 169.8 590.2 170.7 589 170.6C587.8 170.5 586.1 169 585.1 168.5C584.1 168 580.1 166.1 579.1 165.6C578.2 165 576.1 163.6 575.4 162.9C574.7 162.1 573 159 572.3 158.2C571.5 157.3 568.8 155.7 568 154.6C567.3 153.4 565.2 148.2 564.6 147C564 145.9 562 144.5 561.7 143.4C561.5 142.2 562.2 136.8 562.1 135.6C562 134.5 560.8 133 560.6 131.8C560.4 130.5 559.8 124.2 559.9 123C560 121.9 561.2 121.3 561.6 120.4C561.9 119.4 563 114.6 563.5 113.5C563.9 112.3 565.2 109.7 566.2 108.8C567.1 107.8 571.6 105 572.6 104C573.5 103.1 574.7 99.7 575.7 99.1C576.7 98.4 581.5 98.3 582.5 97.9C583.5 97.4 584.6 94.9 585.6 94.4C586.7 93.9 591.7 93.2 593 93C594.2 92.7 597.1 91.8 598.1 91.8C599.1 91.8 602.4 93 603.4 93.1C604.5 93.2 607.6 93.1 608.4 93C609.3 92.8 611.4 91.7 612 91.7C612.6 91.7 614.2 92.5 614.2 92.9C614.3 93.2 612.4 95 612.4 95.4C612.4 95.8 613.6 96.6 614.1 96.7C614.6 96.8 616.6 96.1 617 96C617.3 96 617.2 95.6 617.6 96.1C618.1 96.6 620.5 100.3 621.6 101.2C622.8 102.1 628.4 104.1 629.2 104.8C630.1 105.5 629.1 107.1 629.9 108.2C630.7 109.3 636.3 114.4 637 115.6C637.7 116.9 636.9 119.8 636.9 120.8C637 121.9 637 124.6 637.3 125.8C637.5 127.1 639.4 132.1 639.4 133.2Z" fill="#d1d3d4" stroke="#77787b" stroke-width="1.3" stroke-linejoin="round"/>
<path d="M585.8 115.6C586.6 113.4 587.7 110.8 589.6 109.2C591.5 107.6 594.7 106.1 597.2 105.9C599.8 105.7 602.6 106.6 604.9 108C607.1 109.4 609.6 112.2 610.8 114.3C611.9 116.5 611.1 119.2 611.8 120.7C612.5 122.2 613.5 122.8 615.1 123.3C616.7 123.7 619.3 122.6 621.5 123.3C623.6 123.9 626.1 125.4 627.8 127.1C629.5 128.8 631 131.3 631.7 133.5C632.3 135.6 632.3 137.7 631.7 139.8C631 142 629 144.7 627.8 146.2C626.7 147.7 625 147.7 624.5 148.8C624.1 149.8 625.2 151.8 625 152.3C624.9 152.8 624.1 150.7 623.5 151.8C622.9 152.9 622.7 157.1 621.5 159C620.3 160.8 618.3 162.1 616.4 162.8C614.5 163.4 611.9 163.4 610 162.8C608.1 162.1 606.4 160.4 604.9 159C603.4 157.5 600.8 155.6 601.1 153.9C601.3 152.2 603.6 149.8 606.2 148.8C608.7 147.7 614.2 148.5 616.4 147.5C618.5 146.4 618.6 144.3 618.9 142.4C619.3 140.5 619 137.7 618.4 136C617.8 134.3 616.5 133.2 615.1 132.2C613.7 131.1 611.5 129.8 610 129.6C608.5 129.4 608.1 130.4 606.2 130.9C604.2 131.5 600.8 132.7 598.5 132.9C596.2 133.2 593.8 132.9 592.1 132.2C590.5 131.5 590.3 129.2 588.8 128.9C587.3 128.6 585.2 130.8 583.2 130.4C581.2 130 576.4 127.8 576.6 126.6C576.8 125.3 583 124.6 584.5 122.7C586 120.9 584.9 117.9 585.8 115.6Z" fill="#6d6e71"/>
<path d="M607.9 170C607.7 171.2 605.9 173.2 605.7 174.4C605.5 175.5 606.2 180.2 606 181.3C605.7 182.4 603.4 184.4 602.9 185.6C602.3 186.7 601.1 191.9 600.6 192.9C600.1 193.9 598.8 195.2 597.8 195.9C596.9 196.7 592.1 199.5 591 200.4C589.9 201.3 587.3 204.2 586.6 204.7C585.8 205.1 584.1 204.6 583.4 205C582.7 205.4 580.8 208.3 579.6 208.6C578.4 208.9 573 208.4 571.8 208.3C570.6 208.2 569 207.2 567.7 207.3C566.4 207.4 560.1 209.1 558.7 208.9C557.2 208.8 554.3 206.3 553.3 205.8C552.3 205.3 549.7 204.3 548.6 203.6C547.6 203 543.4 200.2 542.6 199.4C541.8 198.7 540.8 196.8 540.2 196C539.5 195.2 536.7 192 536.1 191.1C535.5 190.2 534.7 187.9 534.1 186.9C533.6 185.9 531.1 182.5 530.7 181.1C530.3 179.8 530.7 174.4 530.4 173C530.1 171.6 528 168.5 527.9 167.3C527.9 166.2 530 162.6 530.2 161.7C530.4 160.8 529.8 159.2 530 158.2C530.1 157.1 531 151.8 531.6 150.9C532.1 150 534.5 150.1 535.3 149.2C536.1 148.3 538.5 142.5 539.5 141.5C540.5 140.5 544.6 140.1 545.3 139.4C546.1 138.7 545.7 135.4 546.7 134.8C547.8 134.1 555 133 556.2 132.6C557.3 132.1 557.2 130.4 558.3 130.3C559.3 130.2 565.3 131.6 566.5 131.4C567.7 131.2 569.2 128.8 570.3 128.7C571.5 128.5 576.9 129.3 578.1 129.8C579.2 130.4 580.8 133.9 581.8 134.4C582.9 134.9 587.7 134.3 588.8 134.8C589.9 135.3 591.9 138.4 592.7 139.3C593.6 140.3 596.6 143.3 597.6 144.1C598.6 144.9 602.1 146.9 602.8 147.5C603.5 148.2 604.6 149.7 604.9 150.8C605.2 151.9 605.8 157.1 606.1 158.3C606.4 159.5 607.9 161.7 608.1 162.8C608.3 164 608.2 168.9 607.9 170Z" fill="#d1d3d4" stroke="#77787b" stroke-width="1.3" stroke-linejoin="round"/>
<path d="M556.4 148.8C557.4 147.3 558.3 145.9 560.3 144.9C562.2 144 565.4 143 567.9 143.1C570.5 143.3 573.5 144.3 575.6 145.7C577.6 147.1 579.1 149.3 580.1 151.3C581.2 153.3 581 156.2 581.9 157.7C582.9 159.2 584.1 159.8 585.8 160.2C587.5 160.7 590 159.6 592.1 160.2C594.3 160.9 596.9 162.4 598.5 164.1C600.1 165.8 601.1 168.3 601.6 170.4C602.1 172.6 602.1 174.7 601.6 176.8C601.1 178.9 599.9 181.5 598.5 183.2C597.2 184.9 594.7 185.5 593.4 187C592.1 188.5 591.9 190.2 590.9 192.1C589.8 194 588.7 197 587 198.5C585.3 200 582.8 201 580.7 201C578.5 201 576 199.8 574.3 198.5C572.6 197.2 571.1 195.1 570.5 193.4C569.8 191.7 569.8 189.7 570.5 188.3C571.1 186.9 572.6 185.7 574.3 185C576 184.3 578.7 184.7 580.7 184C582.6 183.2 584.6 182 585.8 180.6C586.9 179.2 587.6 177.2 587.8 175.5C588 173.8 587.8 171.9 587 170.4C586.3 168.9 584.5 167.6 583.2 166.6C581.9 165.6 580.9 164.4 579.4 164.6C577.9 164.8 576.2 167.1 574.3 167.9C572.4 168.7 569.8 169.2 567.9 169.2C566 169.2 564.3 168.4 562.8 167.9C561.3 167.4 560.5 166.4 559 166.1C557.5 165.8 555.2 165.7 553.9 166.1C552.6 166.5 551.2 167.7 551.3 168.7C551.5 169.6 553.6 170.6 554.6 171.7C555.7 172.9 556.6 174.1 557.7 175.5C558.9 177 560.8 178.9 561.5 180.6C562.3 182.3 562.9 184.3 562.3 185.7C561.7 187.1 559.5 188.6 557.7 189.1C555.9 189.5 553.4 189.1 551.3 188.3C549.3 187.5 547 186.2 545.5 184.5C544 182.8 542.9 180.2 542.4 178.1C541.9 176 541.9 173.7 542.4 171.7C542.9 169.7 544 167.8 545.5 166.1C547 164.4 549.7 162.7 551.3 161.5C552.9 160.3 554.6 160.2 555.2 159C555.7 157.7 554.4 155.6 554.6 153.9C554.9 152.2 555.5 150.2 556.4 148.8Z" fill="#6d6e71"/>
<path d="M703.1 162.3C703.1 163.1 701 165 700.8 166C700.6 166.9 701.3 170.3 701 171.5C700.8 172.8 699 177.3 698.3 178.3C697.6 179.3 695.1 180.9 694.3 181.9C693.4 182.9 690.4 187.2 689.6 188.4C688.8 189.6 687.5 193.2 686.7 193.9C685.8 194.5 681.6 194.7 680.7 195.2C679.8 195.6 678.4 197.7 677.3 198.2C676.2 198.7 671.3 200 670 200.2C668.7 200.4 665.2 199.8 664.3 199.9C663.4 200 662 201.1 661 201.1C660 201.1 655.2 200.2 653.9 199.9C652.6 199.7 648.9 199.4 647.8 198.9C646.8 198.4 644.6 195.9 643.6 195.4C642.5 194.9 638.4 194.1 637.4 193.7C636.4 193.2 634.1 191.5 633.6 190.5C633.1 189.5 633.2 185 632.4 183.7C631.6 182.4 626.2 178.8 625.6 177.6C625 176.4 626.7 172.7 626.4 171.6C626.2 170.4 623.3 167.4 623 166.3C622.8 165.3 623.8 162 623.8 161C623.8 160 623.2 157.4 623.4 156.4C623.5 155.4 625 152.4 625.3 151.2C625.7 150 626.4 145 626.9 144C627.4 143.1 629.5 142.4 630.1 141.5C630.8 140.6 632.1 136.2 633 135.2C633.8 134.2 637.6 132.4 638.4 131.4C639.3 130.5 640.3 126.9 641.3 126.2C642.2 125.5 646.6 124.8 647.9 124.5C649.1 124.2 652.5 123.1 653.7 123C655 122.8 659.3 122.7 660.4 122.6C661.5 122.5 663.8 121.8 664.8 121.9C665.8 122 669.1 123.2 670.5 123.6C671.8 123.9 677 124.6 678 125.1C679 125.5 679.6 127.2 680.4 127.7C681.3 128.1 685.6 129.1 686.6 129.7C687.6 130.2 689.5 132.3 690.3 133.2C691.1 134.2 693.8 137.9 694.5 139C695.1 140.1 696.4 143.4 697.1 144.4C697.8 145.5 701.2 148.2 701.7 149.5C702.1 150.8 701.5 156 701.7 157.3C701.8 158.6 703.2 161.4 703.1 162.3Z" fill="#d1d3d4" stroke="#77787b" stroke-width="1.3" stroke-linejoin="round"/>
<path d="M643 152C644.5 151.2 647.1 150 648.6 149.5C650.2 149 651.6 149.5 652.3 149C653.1 148.5 653.2 147.7 653.3 146.7C653.4 145.8 653 144.4 652.9 143C652.8 141.6 652.6 139.9 652.9 138.3C653.2 136.8 653.6 135.1 654.6 133.7C655.6 132.3 657.2 130.8 658.9 129.9C660.5 129.1 662.6 128.4 664.5 128.4C666.4 128.4 668.4 129.1 670.1 129.9C671.8 130.8 673.4 132.6 674.8 133.7C676.2 134.8 677.2 135.9 678.5 136.5C679.7 137.1 680.8 137.3 682.2 137.4C683.6 137.6 685.3 136.9 686.9 137.4C688.5 137.9 690.3 138.8 691.6 140.2C692.8 141.6 693.9 143.9 694.4 145.8C694.8 147.7 694.8 149.5 694.4 151.4C693.9 153.3 692.8 155.6 691.6 157C690.3 158.4 688.3 159.3 686.9 159.8C685.5 160.3 684.2 160.5 683.2 160.2C682.1 159.9 681 159.1 680.4 158C679.7 156.8 679.6 154.8 679.4 153.3C679.2 151.7 679.4 149.9 679.1 148.6C678.7 147.4 678.3 146.5 677.6 145.8C676.8 145.1 675.6 144.8 674.4 144.5C673.1 144.2 671.4 144.3 670.1 143.9C668.8 143.5 667.4 142.5 666.4 142.1C665.3 141.6 664.5 141.1 663.6 141.1C662.6 141.2 661.6 141.9 660.8 142.6C659.9 143.4 659 144.7 658.3 145.8C657.6 147 656.6 148.5 656.5 149.5C656.3 150.6 656.9 151 657.6 152C658.3 152.9 659.8 153.7 660.8 155.1C661.7 156.6 662.8 158.9 663.2 160.8C663.6 162.6 663.4 164.7 663.2 166.4C662.9 168 662.2 169.6 661.7 170.6C661.1 171.7 660.4 172.3 659.8 172.9C659.3 173.5 658.3 173.8 658.3 174.4C658.3 175 659.1 175.8 659.8 176.6C660.5 177.5 661.8 179.3 662.6 179.4C663.4 179.6 664.1 178.4 664.5 177.6C664.9 176.7 664.4 175.5 665 174.4C665.7 173.2 666.9 171.8 668.2 170.6C669.5 169.5 671.3 168.3 672.9 167.7C674.4 167 676.3 166.6 677.6 166.9C678.9 167.2 680 168.2 680.7 169.5C681.4 170.8 681.9 173 681.9 174.8C681.8 176.6 681.2 178.6 680.4 180.4C679.5 182.1 678.2 183.7 676.6 185C675.1 186.3 673 187.6 671 188.2C669 188.8 666.5 189.1 664.5 188.8C662.5 188.4 660.4 187.2 658.9 186C657.3 184.7 656.1 182.7 655.1 181.3C654.2 179.9 653.9 178.4 653.3 177.6C652.7 176.7 652.5 176.5 651.4 176.3C650.3 176 648.5 176.7 646.7 176.3C645 175.8 642.7 175 641.1 173.8C639.6 172.6 638.2 170.9 637.4 169.2C636.6 167.4 636.1 165.4 636.1 163.6C636.1 161.7 636.8 159.5 637.4 158C638 156.4 638.7 155.2 639.6 154.2C640.6 153.2 641.5 152.8 643 152Z" fill="#6d6e71"/>
<path d="M468.1 289.6C468.1 290.8 468 295.3 467.8 296.2C467.6 297.2 466.2 298.5 465.9 299.3C465.5 300 465 303.2 464.6 304.2C464.2 305.1 462.2 307.7 461.5 309C460.8 310.2 458.2 315.5 457.5 316.5C456.8 317.4 455.7 318.1 454.5 318.6C453.4 319.2 447.3 321.2 446.1 321.8C444.9 322.5 443.3 324.6 442.6 325.1C442 325.6 440.4 326.4 439.4 326.7C438.5 327.1 434.5 328.8 433 328.8C431.5 328.9 425.9 327.8 424.7 327.5C423.4 327.2 421.5 326.5 420.3 326.3C419.1 326.1 413.5 325.9 412.4 325.7C411.3 325.4 409.9 324.2 409.3 323.7C408.7 323.1 407.3 320.6 406.4 319.8C405.4 319.1 400.7 316.9 399.7 315.9C398.7 315 397.1 311.2 396.5 310.4C395.8 309.6 393.6 308.8 393.1 307.8C392.7 306.8 391.9 301.4 391.6 300C391.4 298.5 390.9 294.5 390.8 293.3C390.8 292.2 391.1 289.5 391.1 288.2C391.2 287 391.7 282.4 391.6 281.3C391.6 280.2 390.4 278 390.7 277.3C391 276.6 394.4 274.8 394.7 274.2C395 273.6 394 272 393.9 271.3C393.8 270.7 393.4 268.1 393.5 267.6C393.7 267 394.9 265.6 395.2 265.7C395.6 265.7 396.8 268 397.2 268.1C397.6 268.2 398.7 267.1 398.9 266.7C399 266.3 398.9 264.1 398.9 263.8C399 263.4 399.1 263.8 399.5 263.2C399.9 262.6 401.8 258.4 402.8 257.7C403.8 257 408.4 256.9 409.6 256.2C410.9 255.5 413.7 251.5 414.9 250.9C416 250.2 420 249.7 421.1 249.6C422.2 249.4 425.1 249 426.1 249C427 248.9 429.4 248.7 430.7 249.1C432 249.4 437.7 252.1 439 252.5C440.4 252.9 443.3 252.9 444.4 253.3C445.5 253.7 449.1 256.1 449.8 256.5C450.4 257 450.2 257.3 451.1 258C452 258.7 457.8 262.5 458.8 263.4C459.7 264.2 459.7 265.9 460.2 266.6C460.7 267.3 463.5 269.5 463.9 270.5C464.3 271.4 463.6 274.7 464 276.1C464.3 277.5 467.3 283.1 467.7 284.4C468.1 285.8 468.1 288.4 468.1 289.6Z" fill="#d1d3d4" stroke="#77787b" stroke-width="1.3" stroke-linejoin="round"/>
<path d="M431.8 263.6C433.7 263.1 435.4 263.7 437.1 264.4C438.9 265.2 440.7 266.5 442.4 268C444.2 269.4 446.1 271.4 447.7 273.3C449.4 275.2 450.9 277.2 452.1 279.5C453.4 281.7 454.7 284.2 455.3 286.5C455.9 288.9 456.1 291.4 455.7 293.6C455.3 295.8 454.2 298 453 299.8C451.9 301.5 450.4 303 448.6 304.2C446.8 305.4 444.2 306 442.4 306.8C440.7 307.7 439.2 308.3 438 309.5C436.8 310.7 436.4 312.7 435.4 313.9C434.3 315.2 433.4 316.4 431.8 317.1C430.2 317.7 427.9 317.8 425.6 317.8C423.4 317.8 420.6 317.6 418.6 317.1C416.5 316.6 414.6 316.1 413.3 314.8C411.9 313.5 411.5 311.3 410.6 309.5C409.7 307.7 409.2 305.8 408 304.2C406.8 302.6 404.9 301.4 403.6 299.8C402.2 298.2 400.8 296.4 400 294.5C399.3 292.6 399 290.4 399.1 288.3C399.3 286.2 400 284 400.9 282.1C401.8 280.2 403 278.1 404.4 276.8C405.9 275.5 408 274.5 409.7 274.2C411.5 273.8 413.6 274.4 415 274.7C416.5 275 417.4 276.3 418.6 275.9C419.8 275.5 420.9 273.9 422.1 272.4C423.3 270.9 424 268.6 425.6 267.1C427.3 265.6 429.9 264 431.8 263.6Z" fill="#6d6e71"/>
<path d="M430.1 275C431.5 274.7 433.7 274.8 435.4 275.4C437 276 438.5 277 439.8 278.6C441.1 280.1 442.5 282.7 443.3 284.8C444.1 286.8 444.9 289 444.7 290.9C444.6 292.9 443.7 294.9 442.4 296.2C441.2 297.6 439 298.1 437.1 298.9C435.2 299.7 433 300.4 430.9 301.2C428.9 302 426.7 303.2 424.8 303.7C422.8 304.2 420.9 304.6 419.5 304.2C418 303.8 416.6 302.7 415.9 301.5C415.2 300.4 415.3 298.6 415.4 297.1C415.5 295.7 416.5 294 416.5 292.7C416.4 291.4 415.7 290.2 415 289.2C414.4 288.1 412.7 287.6 412.4 286.5C412.1 285.5 412.5 283.8 413.3 283C414 282.2 415.5 281.8 416.8 281.8C418.1 281.8 419.9 283.1 421.2 283C422.6 282.9 423.9 282.1 424.8 281.2C425.6 280.3 425.6 278.7 426.5 277.7C427.4 276.7 428.6 275.4 430.1 275Z" fill="#d2d2d1"/>
<path d="M507.9 350C507.6 351.3 507.3 354.8 507.1 356.4C506.9 357.9 506 364.7 505.6 365.8C505.3 366.8 504.2 366.2 503.6 366.9C503 367.6 501 371.5 500 372.6C499 373.8 494.3 377.7 493.4 378.4C492.5 379 491.2 378.8 490.7 379.2C490.3 379.6 489.6 382.3 489.2 382.7C488.8 383.1 487.1 383.7 486.8 383.5C486.5 383.2 486.5 380.7 486.2 380.4C486 380.1 484.5 380.4 484.1 380.7C483.7 381 482.8 383 482.6 383.3C482.4 383.5 483 382.9 482.4 383.1C481.7 383.3 477.6 385 476.5 385.1C475.5 385.2 472.9 383.8 471.8 383.9C470.8 384.1 467.1 386.2 466 386.2C464.9 386.2 462.5 384.2 461.3 383.9C460.1 383.6 455.2 383.5 454.1 382.9C453 382.4 451 379.2 450 378.7C448.9 378.3 444.5 379.1 443.6 378.5C442.6 377.8 441.2 373.2 440.5 372.4C439.7 371.6 437 370.9 436.4 370.1C435.7 369.2 434.3 365.1 433.6 363.7C432.9 362.4 429.8 357.7 429.6 356.7C429.4 355.6 431.5 354.6 431.6 353.5C431.6 352.5 430.2 347.5 430.1 346.1C430.1 344.7 430.8 341.1 430.8 339.8C430.9 338.5 430.6 334.2 431 333.1C431.5 331.9 434.7 329 435.2 328.1C435.8 327.1 435.7 324.4 436.2 323.5C436.8 322.5 439.8 319.5 440.8 318.4C441.7 317.4 445.1 314 445.9 313.3C446.6 312.7 447.4 312.1 448.1 311.8C448.8 311.5 451.8 310.5 453.1 310.1C454.5 309.8 460.3 308.4 461.5 308.1C462.8 307.7 464.5 306.9 465.6 306.6C466.7 306.3 470.9 305.1 472.1 305.2C473.3 305.2 476.8 306.9 477.8 307.1C478.8 307.2 481.1 306.3 482.2 306.8C483.4 307.3 488.3 311.6 489.3 312.2C490.4 312.8 492.2 312.1 492.8 312.8C493.4 313.4 494.5 317.7 495.3 318.6C496.2 319.6 500.1 321.4 501.1 322.6C502.1 323.8 505 328.9 505.4 330.2C505.8 331.5 504.7 334.4 505.1 335.4C505.5 336.4 509.1 339.2 509.6 340C510.1 340.9 510.1 342.7 510 343.7C509.8 344.7 508.2 348.8 507.9 350Z" fill="#d1d3d4" stroke="#77787b" stroke-width="1.3" stroke-linejoin="round"/>
<path d="M474.4 317.8C476.3 317.6 478.5 318.1 480.5 318.7C482.6 319.3 484.8 320.3 486.7 321.3C488.6 322.4 491.1 323.2 492 324.9C493 326.5 492.6 329.1 492.6 331C492.6 333 491.5 334.6 492 336.3C492.5 338.1 494.6 339.7 495.6 341.6C496.5 343.6 497.7 345.6 497.9 347.8C498.1 350 497.6 352.8 496.8 354.9C496 357 494.4 358.7 492.9 360.2C491.4 361.7 489.5 362.8 487.6 363.7C485.7 364.6 483.3 365.4 481.4 365.5C479.5 365.6 477.7 364.9 476.1 364.3C474.5 363.7 473.2 361.9 471.7 362C470.2 362 468.9 363.6 467.3 364.6C465.7 365.6 463.9 367.3 462 367.8C460.1 368.3 457.7 368.3 455.8 367.8C453.9 367.3 452 366.2 450.5 364.6C449 363.1 448 360.6 447 358.4C445.9 356.2 445.1 353.9 444.3 351.4C443.6 348.9 442.8 346.1 442.6 343.4C442.3 340.8 442.5 337.8 443.1 335.5C443.7 333.1 444.7 331 446.1 329.3C447.5 327.5 449.5 326 451.4 324.9C453.3 323.7 455.5 323 457.6 322.6C459.6 322.1 461.8 322.7 463.8 322.2C465.7 321.7 467.3 320.3 469.1 319.6C470.8 318.8 472.4 317.9 474.4 317.8Z" fill="#6d6e71"/>
<path d="M462 332.8C463.8 332.7 466 333.2 468.2 333.2C470.4 333.1 473 332.4 475.2 332.5C477.5 332.5 479.7 332.9 481.4 333.7C483.1 334.5 484.9 336 485.5 337.2C486.1 338.5 485.6 340.1 485 341.3C484.4 342.5 482.7 343.2 482 344.3C481.2 345.4 480.5 346.5 480.5 347.8C480.6 349.2 482.2 350.9 482.3 352.2C482.5 353.6 482 355.4 481.4 356.1C480.8 356.9 479.7 357 478.8 356.7C477.9 356.3 477.2 354.7 476.1 354C475.1 353.3 473.8 352.2 472.6 352.2C471.4 352.2 469.9 353.2 469.1 354C468.2 354.8 468.2 356.5 467.3 357.2C466.4 357.9 465.1 358.4 463.8 358.4C462.4 358.4 460.7 358.1 459.3 357.2C458 356.3 456.7 354.7 455.8 353.1C454.9 351.6 454.5 349.7 454 347.8C453.6 345.9 453.1 343.6 453.2 341.6C453.2 339.7 453.7 337.7 454.4 336.3C455.1 335 456.3 334.3 457.6 333.7C458.8 333.1 460.2 332.9 462 332.8Z" fill="#d2d2d1"/>
<path d="M840.4 387.3C839.9 388.6 838.9 391.5 838.8 392.4C838.7 393.3 839.7 395.2 839.1 396.4C838.6 397.6 833.5 403 833 404.3C832.5 405.6 834.4 408.5 834 409.3C833.6 410.2 829.8 412.2 829 413C828.1 413.9 826.7 416.9 825.4 417.8C824 418.8 816.7 421.2 815.5 422.1C814.3 423 813.7 426.4 813 426.9C812.2 427.4 809.5 426.9 808 427.3C806.6 427.8 800.3 430.9 798.8 431.2C797.3 431.6 794 430.7 793.2 430.7C792.4 430.8 791.6 431.6 790.5 431.6C789.5 431.5 784.5 430.4 782.8 430.2C781 430.1 774.9 430.5 773.4 430.2C771.9 429.9 768.6 427.7 767.7 427C766.8 426.4 765.5 424.1 764.8 423.6C764.1 423 761.8 422 760.6 421.4C759.3 420.7 753.1 417.5 752.2 416.7C751.4 415.9 753 414.5 752.4 413.3C751.7 412.1 746.7 406.2 745.7 404.8C744.6 403.5 741.8 400.8 741.4 400.1C741.1 399.3 742.4 398.2 742.1 396.9C741.8 395.6 738.9 388.6 738.4 387.3C738 385.9 737.9 384.1 738 383.3C738 382.5 738.9 380.5 739 379.1C739.2 377.6 739.1 370 739.4 368.7C739.8 367.3 742.3 366.8 742.7 365.6C743.2 364.3 743.3 357.6 743.9 356.2C744.5 354.9 748.2 353.2 748.8 352.3C749.3 351.3 748.7 347.8 749.1 346.7C749.4 345.7 751.7 342 752.7 341.5C753.6 340.9 757.6 342.2 758.5 341.5C759.3 340.8 760.1 335.3 761.2 334.5C762.3 333.7 767.8 334.1 769.1 333.8C770.5 333.5 773.6 331.9 774.6 331.5C775.7 331 778.6 329.5 779.7 329C780.9 328.6 784.8 326.7 786.3 326.7C787.8 326.6 793.2 328.5 794.6 328.7C796 328.9 798.9 328.4 800.1 328.8C801.2 329.2 804.7 331.9 806.2 332.6C807.6 333.2 813.5 334.8 814.7 335.3C816 335.8 817.9 336.6 818.8 337.2C819.7 337.8 822.7 339.9 823.5 341.1C824.4 342.2 826.4 348 827.1 348.7C827.9 349.4 830.2 347.4 830.8 348.2C831.3 349 831.7 355.4 832.6 356.7C833.4 358.1 838.4 360.6 839 361.6C839.6 362.6 838.6 365.8 838.7 366.8C838.9 367.8 839.7 370.2 840.2 371.5C840.7 372.7 843.8 377.4 843.8 379C843.9 380.6 840.9 386 840.4 387.3Z" fill="#fbb764" stroke="#5f6163" stroke-width="2.1" stroke-linejoin="round"/>
<path d="M762.7 363.1C763.3 361.2 765.4 359.4 767.3 358.5C769.3 357.5 772 357.4 774.3 357.3C776.6 357.2 779.1 358.2 781.2 357.8C783.3 357.4 785.4 355.7 787 355C788.5 354.4 787.5 353.9 790.4 353.9C793.3 353.9 800.1 353.7 804.3 355C808.5 356.4 812.9 359.4 815.8 362C818.7 364.5 819.5 368.3 821.6 370C823.7 371.8 826.7 370.8 828.5 372.3C830.3 373.9 831.9 376.8 832.5 379.3C833 381.8 832.7 384.9 832 387.4C831.3 389.9 830.1 392.2 828.5 394.3C827 396.4 825.1 398.6 822.8 400.1C820.5 401.5 817 402.1 814.7 403.1C812.4 404 810.4 404.4 808.9 405.8C807.4 407.3 807 410.1 805.4 411.6C803.9 413.1 802 414.4 799.7 415.1C797.4 415.7 794.5 415.6 791.6 415.5C788.7 415.5 784.9 415.1 782.3 414.6C779.8 414.1 777.5 414 776.1 412.8C774.7 411.5 774.7 409.1 773.8 407C772.9 404.9 772.1 402 770.8 400.1C769.5 398.1 767.5 396.8 766.2 395.4C764.8 394.1 763.4 393.9 762.7 392C762.1 390.1 762.1 386.4 762.3 383.9C762.4 381.4 763.6 379.3 763.9 377C764.1 374.7 764.1 372.3 763.9 370C763.7 367.7 762.1 365 762.7 363.1Z" fill="#d25f26" stroke="#5f6163" stroke-width="1.8" stroke-linejoin="round"/>
<path d="M780 373.5C781 372.9 783.1 372.3 784.7 372.3C786.2 372.3 787.9 373.9 789.3 373.5C790.6 373.1 791.9 371.3 792.7 370C793.6 368.8 793.6 367.1 794.6 366.1C795.5 365.1 797.1 364.5 798.5 364.3C799.9 364 801.6 364.1 803.1 364.7C804.7 365.3 806.3 366.3 807.7 367.7C809.2 369.2 810.6 371.4 811.7 373.5C812.7 375.6 813.9 378.3 814 380.4C814.1 382.5 813.6 384.7 812.4 386.2C811.1 387.7 808.7 388.6 806.6 389.7C804.5 390.7 802 391.7 799.7 392.4C797.4 393.2 795 394.1 792.7 394.3C790.5 394.5 788 394.4 786.3 393.8C784.5 393.2 783 392.1 782.3 390.8C781.7 389.5 782.2 387.7 782.3 386.2C782.5 384.7 783.9 382.9 783.5 381.6C783.1 380.3 780.8 379.5 780 378.6C779.3 377.6 778.9 376.7 778.9 375.8C778.9 375 779.1 374.1 780 373.5Z" fill="#fbb764" stroke="#5f6163" stroke-width="1.8" stroke-linejoin="round"/>
<path d="M764.5 382.1C764.4 383.6 764.6 390.4 764.2 391.7C763.8 393.1 760.9 394.9 760.4 395.7C759.9 396.6 760 398.8 759.7 400C759.4 401.3 758.1 406.8 757.3 407.9C756.5 409 752.3 409.5 751.2 410.6C750.1 411.7 747.5 417.9 746.3 418.9C745 419.9 740.1 420.3 739 421C738 421.6 736.9 424.9 736.1 425.4C735.4 425.9 732.9 425.5 731.8 425.9C730.7 426.3 727 428.7 725.5 429.4C724 430 718.3 432.2 716.8 432.2C715.3 432.1 711.7 429.2 710.5 428.9C709.4 428.7 706.6 430 705.3 429.8C704 429.7 698.7 427.8 697.6 427.4C696.5 426.9 695.3 425.2 694.4 425.1C693.4 425 689.5 426.7 688.1 426.1C686.8 425.6 682.5 420.8 681.1 419.8C679.8 418.8 675.7 416.8 674.7 416.1C673.6 415.3 671.4 413.6 670.8 412.6C670.1 411.6 668.6 407.3 667.9 406.3C667.2 405.2 664.3 403.2 663.9 402C663.5 400.9 663.8 395.9 663.7 394.8C663.5 393.7 662.7 391.9 662.3 391C661.9 390.2 659.5 387.5 659.4 386.4C659.2 385.3 661 381.3 661 379.7C661 378.2 659 372 659.1 370.6C659.3 369.3 661.8 367.5 662.3 366.4C662.9 365.2 663.9 360.8 664.2 359.4C664.5 358 665.1 353 665.6 352.1C666 351.2 668.1 351.1 668.9 350C669.7 348.9 672.7 342.1 673.7 340.9C674.7 339.6 677.7 338 678.5 337.3C679.2 336.6 679.9 334.2 680.8 333.6C681.8 333.1 686.7 332.5 688.1 331.8C689.4 331.1 693.2 326.9 694.3 326.5C695.3 326.2 697.5 328.5 698.6 328.4C699.7 328.4 703.9 326.2 705.1 325.7C706.3 325.3 709.1 324.1 710.5 324.1C711.9 324.2 718 326.1 719.5 326.1C720.9 326.1 724 324.2 724.9 324.4C725.9 324.5 728.2 327.4 729.1 327.9C730 328.4 732.6 329.6 733.5 329.6C734.3 329.7 737 328.3 737.6 328.3C738.2 328.4 739.6 329.5 739.5 330C739.4 330.5 736.9 332.6 736.8 333.1C736.6 333.5 737.7 334.7 738.2 334.8C738.6 334.9 741.1 333.9 741.4 334C741.8 334.2 741.3 336.1 741.7 336.6C742.1 337 744.7 338 745.7 338.8C746.7 339.5 751.3 343.2 752.1 344.2C753 345.2 753.2 347.9 754 349C754.8 350 759.3 353.9 759.8 354.9C760.3 355.9 758.8 357.9 759.2 358.7C759.6 359.6 763.4 362 763.7 363.4C764 364.8 762 371.1 762.1 372.5C762.3 373.8 764.9 376.1 765.1 377.1C765.3 378 764.5 380.6 764.5 382.1Z" fill="#fbb764" stroke="#5f6163" stroke-width="2.1" stroke-linejoin="round"/>
<path d="M707 341.2C708.7 341.4 710 342 711.6 343.1C713.1 344.2 714.5 346.4 716.2 347.7C717.9 349.1 719.9 350.5 722 351.2C724.1 351.9 726.6 351.7 728.9 351.9C731.2 352.1 733.7 351.5 735.8 352.3C737.9 353.2 740 354.8 741.6 357C743.2 359.1 744.6 362.1 745.5 365C746.4 367.9 746.9 371.4 746.9 374.3C746.9 377.2 746.4 380 745.5 382.4C744.6 384.7 743.4 386.8 741.6 388.1C739.8 389.5 736.6 389.5 734.7 390.4C732.8 391.4 731.1 392.2 730.1 393.9C729 395.6 728.8 398.3 728.4 400.8C728.1 403.3 728.4 406.6 727.7 408.9C727.1 411.2 726 413.3 724.3 414.7C722.6 416 720.1 416.8 717.4 417C714.7 417.2 711.2 416.4 708.1 415.8C705 415.3 702 414.5 698.9 413.5C695.8 412.6 692.5 411.8 689.6 410.1C686.8 408.3 683.9 405.8 681.6 403.1C679.2 400.4 677.1 397 675.8 393.9C674.5 390.8 673.9 387.6 673.9 384.7C673.9 381.8 674.7 379.1 675.8 376.6C676.9 374.1 679.2 372 680.4 369.7C681.6 367.3 682.7 365 683.2 362.7C683.6 360.4 682.5 357.9 683.2 355.8C683.9 353.7 685.5 351.8 687.3 350C689.2 348.3 692 346.8 694.3 345.4C696.6 344.1 699.1 342.6 701.2 341.9C703.3 341.2 705.2 341.1 707 341.2Z" fill="#d25f26" stroke="#5f6163" stroke-width="1.8" stroke-linejoin="round"/>
<path d="M709.3 362.7C710.9 362.6 712.9 362.9 713.9 363.9C714.9 364.8 715 367 715.5 368.5C716 370 716 372.2 716.9 373.1C717.8 374.1 719.5 374 720.8 374.3C722.1 374.6 723.9 374.4 724.7 375C725.6 375.5 726.3 376.8 726.1 377.7C726 378.7 724.9 379.8 723.8 380.5C722.7 381.2 720.8 381.2 719.7 381.9C718.5 382.6 717.3 383.4 716.9 384.7C716.5 385.9 717.6 387.7 717.4 389.3C717.1 390.8 716.7 392.6 715.5 393.9C714.4 395.2 712.4 396.5 710.4 396.9C708.4 397.3 705.8 396.8 703.5 396.2C701.2 395.6 698.5 394.7 696.6 393.4C694.6 392.2 692.9 390.5 692 388.8C691 387.2 690.5 385.2 690.8 383.5C691.1 381.9 692.8 380.4 693.8 378.9C694.8 377.4 696 376 697 374.3C698.1 372.5 698.9 370.2 700 368.5C701.2 366.8 702.4 365.3 704 364.3C705.5 363.4 707.6 362.8 709.3 362.7Z" fill="#fbb764" stroke="#5f6163" stroke-width="1.8" stroke-linejoin="round"/>
<path d="M947.2 293.7C947.3 294.7 945.5 296.8 945.1 297.7C944.7 298.5 943.5 301.1 943.1 302.4C942.6 303.7 941 309.5 940.8 310.7C940.6 311.9 941.3 313.4 940.8 314.7C940.3 316 936.6 322.3 935.7 323.3C934.8 324.4 932.8 324.4 932 325.3C931.2 326.2 928.4 331.1 927.6 332.1C926.8 333.1 925.4 334.7 924.2 335.3C923 335.9 917 337.9 915.4 338.4C913.9 338.9 909.9 339.9 908.9 340.2C908 340.5 906.8 340.8 905.5 341.1C904.3 341.5 897.7 343.6 896.5 343.9C895.3 344.1 894.5 343.4 893.5 343.4C892.5 343.4 888.2 344 886.9 343.9C885.7 343.9 882.5 343.3 880.9 343C879.3 342.7 872.6 341.5 871.2 340.7C869.8 339.9 867.7 336 867 335.3C866.2 334.5 865 333.6 864 333.1C863.1 332.6 858.4 331.5 857.5 330.6C856.7 329.7 856 325.7 855.5 324.4C855 323.1 853.5 318.8 852.6 317.6C851.7 316.4 847 313.4 846.2 312.6C845.4 311.8 844.9 310.8 844.6 309.5C844.2 308.3 843 301.5 842.7 300C842.4 298.6 841.6 296 841.4 294.8C841.3 293.5 840.8 289 841 287.7C841.2 286.4 843.2 283.2 843.5 282.1C843.8 280.9 843.7 277.4 843.9 276.2C844 275 844.4 271.3 845.2 270.1C846 268.9 851 265.4 851.9 264.1C852.8 262.8 853.7 258.2 854.5 257.3C855.2 256.5 858.6 256.3 859.4 255.5C860.3 254.8 861.8 250.5 862.9 249.8C864 249.1 869.3 249.2 870.4 248.5C871.4 247.8 872.5 243.4 873.3 242.7C874.2 242 877.4 241.8 878.9 241.7C880.4 241.6 886.9 241.8 888.1 241.6C889.3 241.5 889.9 240.8 890.8 240.6C891.7 240.4 895.3 239.3 896.9 239.6C898.4 240 905 244 906.5 244.4C908 244.8 910.4 243.8 911.5 243.8C912.6 243.8 916.6 244 917.5 244.3C918.5 244.7 920 246.5 920.9 247.3C921.9 248.1 926.3 251.4 927.4 252.3C928.5 253.3 930.8 256.2 931.9 257.2C932.9 258.2 937.2 261.3 938 262.1C938.8 262.9 939.1 263.8 939.6 264.9C940.1 265.9 942.4 270.8 942.8 272.4C943.2 274.1 943.4 279.8 943.6 281.3C943.8 282.8 944.3 286.4 944.6 287.6C945 288.9 947.2 292.7 947.2 293.7Z" fill="#fbb764" stroke="#5f6163" stroke-width="2.1" stroke-linejoin="round"/>
<path d="M870 273.1C870.5 270.6 871 268.1 872.3 266.2C873.7 264.3 875.8 262.5 878.1 261.6C880.4 260.6 883.5 260.2 886.2 260.4C888.9 260.6 892 261.4 894.3 262.7C896.6 264.1 898.3 266.4 900 268.5C901.8 270.6 903.5 273.7 904.7 275.4C905.8 277.1 906 278.7 907 278.9C907.9 279.1 909.1 277.7 910.4 276.6C911.8 275.4 913.3 273.1 915.1 272C916.8 270.8 918.8 269.7 920.8 269.6C922.9 269.6 925.4 270.3 927.3 271.5C929.2 272.6 931.1 274.4 932.4 276.6C933.6 278.8 934.5 282.3 934.7 284.7C934.9 287 934.5 289.1 933.5 290.4C932.6 291.8 931 292.4 928.9 292.7C926.8 293.1 923.7 292.8 920.8 292.7C917.9 292.7 914.3 292.3 911.6 292.3C908.9 292.3 906.4 292.4 904.7 292.7C902.9 293.1 901.7 293.6 901.2 294.6C900.7 295.5 900.9 297.5 901.9 298.5C902.9 299.5 905 300.4 907 300.8C909 301.2 911.6 300.7 913.9 300.8C916.2 300.9 918.7 300.9 920.8 301.5C922.9 302.1 925.1 302.9 926.6 304.3C928.1 305.7 929.1 307.7 929.6 310.1C930.1 312.4 930.2 315.6 929.6 318.1C929 320.6 927.6 323.2 925.9 325.1C924.3 326.9 922.1 328.5 919.7 329.2C917.3 330 914.3 330.2 911.6 329.7C908.9 329.2 905.8 327.8 903.5 326.2C901.2 324.7 899.3 322.6 897.7 320.5C896.2 318.3 895.1 316.2 894.3 313.5C893.4 310.8 893 307.2 892.7 304.3C892.3 301.4 892.5 297.9 892 296.2C891.5 294.5 890.8 294 889.7 293.9C888.5 293.8 886.8 295.1 885 295.5C883.3 295.9 881 296.4 879.3 296.2C877.5 296 876 295.7 874.6 294.6C873.3 293.4 872 291.5 871.2 289.3C870.3 287 869.8 283.9 869.6 281.2C869.4 278.5 869.6 275.6 870 273.1Z" fill="#d25f26" stroke="#5f6163" stroke-width="1.8" stroke-linejoin="round"/>
<path d="M872.3 301.5C873.7 300.4 877.3 301.1 879.3 302C881.2 302.8 882.7 304.5 883.9 306.6C885 308.7 886 312.2 886.2 314.7C886.4 317.2 886 319.9 885 321.6C884.1 323.3 882.1 324.6 880.4 325.1C878.7 325.6 876.2 326.1 874.6 324.6C873.1 323.1 871.8 318.4 871.2 315.8C870.6 313.2 871 311.3 871.2 308.9C871.4 306.5 871 302.7 872.3 301.5Z" fill="#d25f26" stroke="#5f6163" stroke-width="1.8" stroke-linejoin="round"/>
<path d="M1039.6 279.2C1039.3 280.9 1036.2 285.1 1035.9 286.4C1035.6 287.8 1036.9 291.9 1036.8 293C1036.8 294.2 1036 297 1035.7 297.8C1035.3 298.5 1034 299.6 1033.2 300.7C1032.5 301.8 1028.5 307.7 1027.9 308.8C1027.2 309.8 1026.9 310.5 1026.9 311.2C1026.8 311.9 1027.4 315 1027.2 315.5C1027 316.1 1025.5 317.2 1025.1 317C1024.6 316.8 1023.2 313.8 1022.7 313.6C1022.3 313.3 1020.9 314 1020.7 314.5C1020.5 314.9 1020.6 317.7 1020.7 317.9C1020.7 318 1021.6 315.5 1020.9 315.8C1020.3 316 1015 319.6 1014 320.6C1012.9 321.7 1011.9 325.3 1010.6 326C1009.3 326.7 1002.7 327.2 1001.2 327.7C999.8 328.1 997.1 330.4 996.1 330.9C995.2 331.4 993.1 332.5 992 332.5C991 332.5 987.5 330.9 986 330.9C984.4 330.8 978.3 332.2 976.7 332C975.1 331.7 971.2 329 970 328.8C968.8 328.5 965.6 329.7 964.6 329.5C963.7 329.3 961.9 327.9 960.9 327.1C960 326.3 956.6 322.4 955.4 321.5C954.1 320.6 949.6 318.7 948.6 318C947.6 317.3 945.6 315.4 945.1 314.6C944.6 313.7 943.9 310.4 943.2 309.1C942.6 307.7 939.7 302.4 938.8 301.2C937.8 299.9 934.3 297.5 933.7 296.6C933 295.6 932.5 292.7 932.3 291.6C932 290.5 931.1 287.4 931 285.8C931 284.2 931.7 276.8 931.7 275.6C931.8 274.3 931.6 273.7 931.6 273.1C931.6 272.6 932 270.9 931.7 270.3C931.5 269.6 929.5 267.3 929.3 266.7C929.2 266.1 929.9 264.4 930.4 264.4C930.9 264.3 933.7 266.2 934.2 266.2C934.7 266.2 935.5 264.8 935.5 264.3C935.5 263.9 933.8 261.9 933.8 261.4C933.8 260.9 935.3 260.2 935.6 259.2C936 258.3 936.7 252.5 937.2 251.5C937.7 250.5 939.9 249.8 940.6 248.9C941.4 248.1 944.2 244.6 944.9 243.3C945.6 242.1 946.9 237.3 947.7 236.6C948.5 235.8 951.6 236.6 952.8 235.9C954 235.2 958.6 230.5 959.9 229.8C961.1 229 964 229.2 965.4 228.7C966.8 228.2 972.8 224.6 974.1 224.5C975.5 224.3 977.5 227.4 978.5 227.4C979.6 227.3 983.4 223.9 984.4 223.8C985.5 223.7 988 226.1 989.3 226.4C990.6 226.6 996 226 997.4 226.2C998.7 226.5 1001.5 228.7 1002.6 229C1003.8 229.3 1007.7 228.6 1008.9 229C1010.1 229.4 1013.7 232.1 1014.9 233C1016.2 234 1020.4 237.9 1021.5 238.6C1022.7 239.4 1025.7 239.9 1026.4 240.6C1027.1 241.3 1027.3 244.1 1028.1 245.5C1028.9 246.9 1034 253.3 1034.5 254.4C1035.1 255.6 1033.8 256.2 1033.9 257.1C1034 258.1 1035.1 262.4 1035.6 263.7C1036.1 265 1038 268.5 1038.4 270.1C1038.8 271.6 1039.8 277.6 1039.6 279.2Z" fill="#fbb764" stroke="#5f6163" stroke-width="2.1" stroke-linejoin="round"/>
<path d="M945.5 257C945.5 254.6 946.4 251.4 947.8 248.9C949.1 246.4 951.2 243.7 953.6 241.9C955.9 240.1 958.9 238.8 961.6 238C964.3 237.2 967.2 237.1 969.7 237.3C972.2 237.6 974.7 238.5 976.7 239.6C978.6 240.8 979.9 242.7 981.3 244.2C982.6 245.8 983.2 248.1 984.7 248.9C986.3 249.6 988.4 249 990.5 248.9C992.6 248.8 995.1 247.8 997.4 248.2C999.7 248.6 1002.4 249.7 1004.4 251.2C1006.3 252.6 1007.9 254.6 1009 257C1010 259.3 1010.6 262.3 1010.6 265C1010.6 267.7 1010 270.8 1009 273.1C1007.9 275.4 1006.3 277.4 1004.4 278.9C1002.4 280.4 999.4 281 997.4 281.9C995.5 282.8 993.6 283.2 992.8 284.2C992.1 285.2 992.1 286.7 992.8 288.1C993.6 289.6 996 291 997.4 292.7C998.9 294.5 1000.6 296.4 1001.4 298.5C1002.1 300.6 1002.5 303.3 1002.1 305.5C1001.6 307.6 1000.3 309.9 998.6 311.2C996.9 312.6 994 313.3 991.7 313.5C989.4 313.7 986.6 313.3 984.7 312.4C982.9 311.4 981.5 309.7 980.6 307.8C979.6 305.8 979.2 303.3 979 300.8C978.7 298.3 978.8 295.3 979 292.7C979.1 290.2 979.8 287.7 979.7 285.8C979.5 283.9 979 282.1 978.3 281.2C977.5 280.3 976.1 280.1 975 280.5C974 280.9 972.8 282 972 283.5C971.3 285 970.8 287 970.4 289.3C970 291.6 970.1 294.9 969.7 297.4C969.3 299.9 969.3 302.4 968.1 304.3C967 306.2 965 308.1 962.8 308.9C960.6 309.7 957.2 309.5 954.7 308.9C952.2 308.3 949.6 307 947.8 305.5C945.9 303.9 944.4 301.8 943.6 299.7C942.9 297.6 942.9 295.1 943.2 292.7C943.5 290.4 944.3 287.9 945.5 285.8C946.6 283.7 948.2 281.8 950.1 280C952 278.3 954.5 276.7 957 275.4C959.5 274.2 962.6 273.3 965.1 272.7C967.6 272 970.4 272 972 271.3C973.7 270.5 974.3 269.5 975 268C975.8 266.6 976.1 264.6 976.4 262.7C976.7 260.9 977 258.8 976.9 257C976.7 255.1 976.2 253 975.5 251.9C974.8 250.7 973.5 249.9 972.5 250C971.5 250.1 970.1 251.4 969.5 252.3C968.9 253.3 968.8 254.8 969 255.8C969.3 256.8 971 257.2 971.1 258.1C971.3 259 971 260.1 970 261.1C969 262.1 966.9 263.1 965.1 263.9C963.3 264.6 961.4 265.2 959.3 265.5C957.2 265.8 954.3 266 952.4 265.5C950.5 265 948.9 264.1 947.8 262.7C946.6 261.3 945.5 259.3 945.5 257Z" fill="#d25f26" stroke="#5f6163" stroke-width="1.8" stroke-linejoin="round"/>
<path d="M875.7 318.7C875.5 319.9 875.3 324.3 874.9 325.4C874.4 326.5 871.4 328.6 871 329.6C870.6 330.6 870.8 334 870.7 335.2C870.6 336.3 870.7 339.9 870 341C869.2 342.2 864 345.5 863.2 346.6C862.4 347.8 862.7 351.5 861.9 352.5C861 353.6 855.8 356.3 854.8 357.2C853.7 358.1 852.2 361.1 851.5 361.7C850.7 362.3 848.4 362.4 847.4 362.8C846.4 363.3 842.7 365.7 841.3 366.3C839.8 366.9 834 368.4 832.8 368.6C831.7 368.9 830.9 368.4 829.9 368.5C828.9 368.7 824.3 370.3 822.9 370.2C821.5 370.2 817.3 368.2 815.7 367.9C814.2 367.7 808.8 367.9 807.5 367.7C806.3 367.6 803.9 367.1 803.1 366.6C802.3 366.1 801 363.7 799.7 362.9C798.4 362 791.5 358.8 790.3 357.8C789.1 356.8 788.7 353.9 787.9 353C787.1 352.1 783.1 349.5 782.2 348.8C781.3 348.1 779.3 346.9 779 346C778.8 345.1 780 340.8 779.5 339.7C779 338.6 774.8 335.6 774.2 334.8C773.6 333.9 773.9 331.8 773.4 331.3C773 330.7 770.2 329.4 769.9 328.9C769.5 328.5 769.5 326.6 769.9 326.4C770.3 326.1 773.5 326.7 773.9 326.5C774.4 326.3 774.6 324.8 774.4 324.4C774.2 323.9 772.3 322.9 771.7 322.3C771.2 321.8 769 319.8 768.8 318.8C768.7 317.7 769.9 313.3 770.2 312C770.6 310.7 772.2 306.7 772.4 305.8C772.5 304.9 771.3 303.7 771.7 302.8C772.1 301.9 775.5 298.5 776.4 297.1C777.4 295.7 780.8 290.2 781.4 288.7C782 287.3 781.4 283.8 782.1 282.7C782.9 281.7 788 279 788.8 278.5C789.6 277.9 789.4 277.4 790.2 277C791 276.6 795.1 275 796.6 274.3C798.1 273.6 804.4 270.8 805.3 270C806.3 269.2 805.4 266.5 806.4 266.2C807.3 265.8 813.2 266.8 814.7 266.7C816.3 266.6 820.6 265.2 821.8 265.1C823 265.1 825.6 266.1 826.7 266.3C827.8 266.5 831.1 266.9 832.5 267.1C834 267.3 840 268 841.3 268.4C842.6 268.8 844.2 270.5 845.5 271C846.7 271.6 852.7 273.6 853.8 274.1C855 274.7 855.9 276 856.7 276.6C857.4 277.2 860.3 279 861.3 280.3C862.2 281.6 865.3 288.2 866.3 289.5C867.3 290.8 870.9 292.2 871.6 293C872.3 293.8 873.5 296.8 873.6 297.7C873.8 298.7 872.9 301 873.2 302.5C873.5 303.9 876.3 310.8 876.6 312.4C876.8 314.1 875.9 317.4 875.7 318.7Z" fill="#fbb764" stroke="#5f6163" stroke-width="2.1" stroke-linejoin="round"/>
<path d="M813.3 285.4C812.8 282.9 814.3 280.4 815.7 278.5C817 276.6 819.1 274.9 821.4 273.9C823.7 272.8 826.8 272 829.5 272C832.2 272 835.3 272.6 837.6 273.9C839.9 275.1 841.9 277.3 843.4 279.6C844.8 281.9 846 285 846.4 287.7C846.8 290.4 846.2 293.3 845.7 295.8C845.2 298.3 844.4 300.6 843.4 302.7C842.3 304.8 840.8 306.8 839.4 308.5C838.1 310.2 836.2 311.8 835.3 313.1C834.4 314.5 833.9 315.6 834.1 316.6C834.3 317.5 835.3 318.2 836.4 318.9C837.6 319.5 839.5 319.7 841.1 320.5C842.6 321.3 844.6 322.2 845.7 323.5C846.7 324.8 846.5 327.1 847.3 328.1C848.1 329.2 849.3 329.9 850.3 329.7C851.3 329.6 852.9 328.4 853.3 327C853.7 325.6 853.1 323.1 852.6 321.2C852.1 319.3 850.8 317.5 850.3 315.4C849.8 313.3 849.2 310.6 849.6 308.5C850 306.4 851.1 304.1 852.6 302.7C854.1 301.4 856.5 300.4 858.4 300.4C860.3 300.4 862.4 301.4 864.2 302.7C865.9 304.1 867.6 306.2 868.8 308.5C869.9 310.8 870.9 313.7 871.1 316.6C871.3 319.5 870.9 323.1 869.9 325.8C869 328.5 867.2 330.9 865.3 332.7C863.4 334.6 860.9 335.9 858.4 336.7C855.9 337.4 852.4 337.1 850.3 337.4C848.2 337.7 846.8 337.6 845.7 338.5C844.5 339.5 844.7 341.4 843.4 343.1C842 344.9 839.9 347.6 837.6 348.9C835.3 350.3 832.2 351.1 829.5 351.2C826.8 351.3 823.7 350.8 821.4 349.6C819.1 348.5 817.2 346.5 815.7 344.3C814.1 342.1 812.8 338.9 812.2 336.2C811.5 333.5 811.4 330.4 811.7 328.1C812 325.8 814 323.8 814 322.4C814.1 320.9 813.5 320.3 812.2 319.6C810.9 318.9 808.3 318.7 806.4 318.2C804.5 317.7 802.5 317.6 800.6 316.6C798.8 315.5 796.8 313.9 795.6 312C794.3 310 793.5 307.3 793.3 305C793 302.7 793.3 299.9 794.2 298.1C795 296.3 796.7 294.8 798.3 294.2C800 293.5 802.2 293.5 804.1 294.2C806 294.8 808 296.5 809.9 298.1C811.8 299.7 813.7 302.1 815.7 303.9C817.6 305.7 819.8 307.6 821.4 309C823.1 310.3 824.5 311.7 825.6 312C826.7 312.2 827.6 311.5 827.9 310.3C828.2 309.2 827.9 306.9 827.2 305C826.5 303.2 825.2 301.2 823.7 299.3C822.3 297.3 820.4 295.8 818.7 293.5C816.9 291.2 813.8 287.9 813.3 285.4Z" fill="#d25f26" stroke="#5f6163" stroke-width="1.8" stroke-linejoin="round"/>
<text x="5" y="29.2" textLength="251" lengthAdjust="spacingAndGlyphs" font-size="24.3" style="font-family:'Liberation Sans',sans-serif;font-weight:700;fill:#231f20;stroke:#231f20;stroke-width:0.5px;stroke-linejoin:round">Developmental trajectory</text>
<text x="677.5" y="29.2" textLength="220" lengthAdjust="spacingAndGlyphs" font-size="24.3" style="font-family:'Liberation Sans',sans-serif;font-weight:700;fill:#231f20;stroke:#231f20;stroke-width:0.5px;stroke-linejoin:round">Tumor reprogramming</text>
<text x="333" y="485.1" textLength="79" lengthAdjust="spacingAndGlyphs" font-size="24.3" style="font-family:'Liberation Sans',sans-serif;font-weight:700;fill:#231f20;stroke:#231f20;stroke-width:0.5px;stroke-linejoin:round">Stromal</text>
<text x="655" y="485.1" textLength="241" lengthAdjust="spacingAndGlyphs" font-size="24.3" style="font-family:'Liberation Sans',sans-serif;font-weight:700;fill:#231f20;stroke:#231f20;stroke-width:0.5px;stroke-linejoin:round">Hypoxic-glycolytic niche</text>
<text x="1000" y="485.1" textLength="61" lengthAdjust="spacingAndGlyphs" font-size="24.3" style="font-family:'Liberation Sans',sans-serif;font-weight:700;fill:#231f20;stroke:#231f20;stroke-width:0.5px;stroke-linejoin:round">Tumor</text>
<text x="437.5" y="82.4" textLength="65" lengthAdjust="spacingAndGlyphs" font-size="24.3" style="font-family:'Liberation Sans',sans-serif;font-weight:400;fill:#363334">Mature</text>
<text x="313" y="151" textLength="90.7" lengthAdjust="spacingAndGlyphs" font-size="24.3" style="font-family:'Liberation Sans',sans-serif;font-weight:400;fill:#363334">Immature</text>
<text x="420.5" y="212.8" textLength="105" lengthAdjust="spacingAndGlyphs" font-size="24.3" style="font-family:'Liberation Sans',sans-serif;font-weight:400;fill:#363334">Transitional</text>
<text x="445" y="239.8" textLength="56.3" lengthAdjust="spacingAndGlyphs" font-size="24.3" style="font-family:'Liberation Sans',sans-serif;font-weight:400;fill:#363334">states</text>
<text x="613.4" y="283.8" textLength="143.4" lengthAdjust="spacingAndGlyphs" font-size="24.3" style="font-family:'Liberation Sans',sans-serif;font-weight:400;fill:#363334">Reprogrammed</text>
<text x="633.5" y="312" textLength="103.5" lengthAdjust="spacingAndGlyphs" font-size="24.3" style="font-family:'Liberation Sans',sans-serif;font-weight:400;fill:#363334">neutrophils</text>
<text x="897" y="220.3" font-size="24.3" style="font-family:'Liberation Sans',sans-serif;font-weight:400;fill:#363334"><tspan textLength="48.5" lengthAdjust="spacingAndGlyphs">VEGF</tspan><tspan x="946.3" textLength="14.5" lengthAdjust="spacingAndGlyphs" font-size="22" style="font-family:'DejaVu Serif','Liberation Serif',serif">α</tspan></text>
<text font-size="24.3" style="font-family:'Liberation Sans',sans-serif;font-weight:400;fill:#363334"><tspan x="910" y="143.4" textLength="26.5" lengthAdjust="spacingAndGlyphs" font-size="23" style="font-family:'DejaVu Sans Light','DejaVu Sans',sans-serif;font-weight:200;fill:#e0742a;stroke:#e0742a;stroke-width:0.12px">↑</tspan><tspan x="939" y="142.7" textLength="65.5" lengthAdjust="spacingAndGlyphs">Growth</tspan></text>
<text font-size="24.3" style="font-family:'Liberation Sans',sans-serif;font-weight:400;fill:#363334"><tspan x="910" y="171.1" textLength="26.5" lengthAdjust="spacingAndGlyphs" font-size="23" style="font-family:'DejaVu Sans Light','DejaVu Sans',sans-serif;font-weight:200;fill:#8a1f22;stroke:#8a1f22;stroke-width:0.12px">↑</tspan><tspan x="940" y="170.6" textLength="122" lengthAdjust="spacingAndGlyphs">Angiogenesis</tspan></text>
</svg>
</body>
</html>
